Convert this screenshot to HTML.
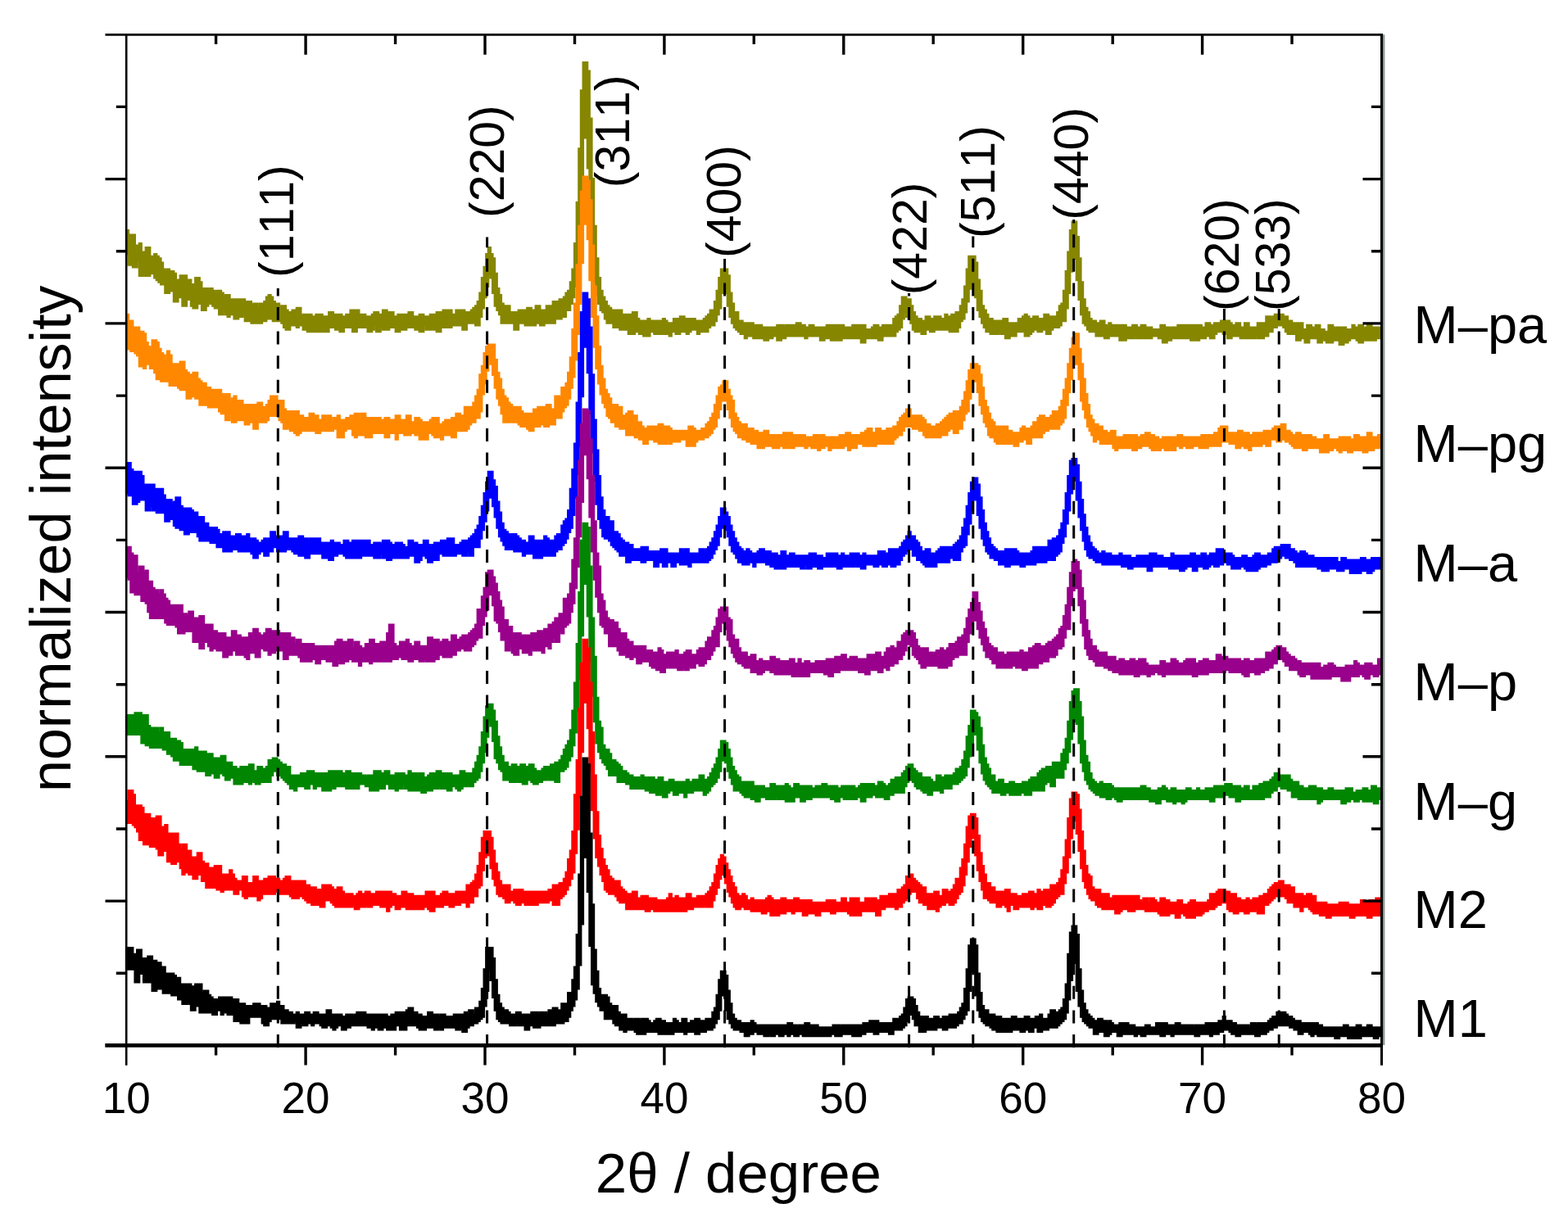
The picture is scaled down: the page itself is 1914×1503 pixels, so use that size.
<!DOCTYPE html><html><head><meta charset="utf-8"><title>XRD patterns</title><style>
html,body{margin:0;padding:0;background:#fff;}body{width:1914px;height:1503px;overflow:hidden;}
svg{display:block;}text{font-family:'Liberation Sans', Arial, sans-serif;fill:#000;font-kerning:none;}
</style></head><body>
<svg xmlns="http://www.w3.org/2000/svg" width="1914" height="1503" viewBox="0 0 1914 1503">
<rect width="1914" height="1503" fill="#fff"/>
<g stroke="none">
<path fill="#868600" stroke="#868600" stroke-width="2.6" d="M154.2 281.4H156.8V286.7H159.5H162.1H164.7V299.8H167.3H170V297.2H172.6V307.7H175.2H177.9V302.4H180.5H183.1V313H185.8V315.6H188.4V310.3H191V313H193.6V315.6H196.3V320.9H198.9V328.8H201.5V331.4H204.2V328.8H206.8V331.4H209.4H212.1V334H214.7V341.9H217.3H219.9V336.6H222.6H225.2H227.8V341.9H230.5H233.1V347.2H235.7H238.4V339.3H241H243.6V344.5H246.2V352.4H248.9H251.5H254.1V355.1H256.8V352.4H259.4V355.1H262V357.7H264.7V355.1H267.3H269.9V357.7H272.5V362.9H275.2V360.3H277.8H280.4V365.6H283.1H285.7H288.3H291H293.6H296.2H298.9V373.5H301.5V368.2H304.1H306.7V373.5H309.4V370.8H312H314.6V376.1H317.3V370.8H319.9H322.5V368.2H325.1V362.9H327.8V360.3H330.4V362.9H333V368.2H335.7V370.8H338.3H340.9V376.1H343.6V373.5H346.2H348.8V378.7H351.4V381.3H354.1H356.7V378.7H359.3H362V376.1H364.6H367.2V386.6H369.9V384H372.5V386.6H375.1V384H377.8H380.4V386.6H383H385.6V384H388.3H390.9H393.5V386.6H396.2H398.8H401.4V381.3H404H406.7V384H409.3H411.9H414.6H417.2V386.6H419.8H422.5V384H425.1H427.7V378.7H430.3H433H435.6H438.2V384H440.9H443.5H446.1V386.6H448.8H451.4V389.2H454V384H456.6V381.3H459.3H461.9V384H464.5H467.2V378.7H469.8H472.4V381.3H475.1H477.7H480.3V386.6H482.9H485.6V384H488.2H490.8H493.5H496.1H498.7V381.3H501.4H504V386.6H506.6H509.2H511.9V384H514.5H517.1V386.6H519.8H522.4H525V384H527.7H530.3H532.9V381.3H535.5H538.2V386.6H540.8V378.7H543.4H546.1H548.7H551.3V384H554H556.6V378.7H559.2H561.8H564.5H567.1V381.3H569.7H572.4H575V378.7H577.6V376.1H580.3V373.5H582.9V368.2H585.5V357.7H588.1V339.3H590.8V326.1H593.4V310.3H596V302.4H598.7V310.3H601.3V315.6H603.9V334H606.6V352.4H609.2V360.3H611.8V370.8H614.5V373.5H617.1H619.7H622.3V381.3H625H627.6H630.2H632.9V378.7H635.5H638.1H640.8V384H643.4V376.1H646H648.6V378.7H651.3V381.3H653.9V373.5H656.5H659.2V378.7H661.8H664.4H667V373.5H669.7H672.3H674.9V368.2H677.6H680.2V370.8H682.8V365.6H685.5H688.1V362.9H690.7V357.7H693.3V355.1H696V344.5H698.6V328.8H701.2V297.2H703.9V247.2H706.5V181.5H709.1V110.5H711.8V76.3H714.4H717V86.8H719.6V144.7H722.3V218.3H724.9V276.1H727.5V315.6H730.2V339.3H732.8V355.1H735.4V362.9H738.1V368.2H740.7V373.5H743.3V376.1H746V378.7H748.6V381.3H751.2V378.7H753.8H756.5H759.1V384H761.7H764.4H767V386.6H769.6V384H772.2V381.3H774.9H777.5V389.2H780.1V391.9H782.8H785.4H788H790.7V389.2H793.3V394.5H795.9V391.9H798.5H801.2H803.8H806.4H809.1V389.2H811.7V391.9H814.3V394.5H817H819.6H822.2V389.2H824.8H827.5V391.9H830.1V386.6H832.7H835.4V391.9H838V389.2H840.6H843.3H845.9H848.5V391.9H851.1H853.8H856.4H859V389.2H861.7V386.6H864.3V384H866.9V378.7H869.6H872.2V368.2H874.8V355.1H877.5V339.3H880.1V328.8H882.7H885.3H888V336.6H890.6V357.7H893.2V370.8H895.9V381.3H898.5H901.1V391.9H903.8H906.4V394.5H909H911.6H914.3H916.9H919.5V397.1H922.2V399.8H924.8V397.1H927.4H930V399.8H932.7H935.3H937.9H940.6H943.2H945.8H948.5V397.1H951.1H953.7H956.3V399.8H959V397.1H961.6H964.2H966.9H969.5H972.1V394.5H974.8H977.4V399.8H980V397.1H982.6V399.8H985.3H987.9V397.1H990.5H993.2V399.8H995.8H998.4H1001.1H1003.7H1006.3H1009V397.1H1011.6H1014.2H1016.8H1019.5V399.8H1022.1V397.1H1024.7H1027.4H1030V399.8H1032.6H1035.2H1037.9H1040.5V397.1H1043.1H1045.8H1048.4V402.4H1051V397.1H1053.7H1056.3V402.4H1058.9H1061.5H1064.2V399.8H1066.8V397.1H1069.4H1072.1V399.8H1074.7H1077.3V397.1H1080H1082.6H1085.2H1087.8H1090.5V389.2H1093.1V386.6H1095.7V384H1098.4V373.5H1101V362.9H1103.6H1106.3V365.6H1108.9H1111.5V373.5H1114.1V381.3H1116.8V386.6H1119.4V389.2H1122H1124.7V391.9H1127.3H1129.9V386.6H1132.6H1135.2V389.2H1137.8H1140.5V386.6H1143.1H1145.7H1148.3V389.2H1151H1153.6V384H1156.2V386.6H1158.9V389.2H1161.5V384H1164.1H1166.8V381.3H1169.4H1172V373.5H1174.6V365.6H1177.3V349.8H1179.9V328.8H1182.5V313H1185.2H1187.8H1190.4V320.9H1193V341.9H1195.7V355.1H1198.3V373.5H1200.9V378.7H1203.6V384H1206.2V389.2H1208.8H1211.5V391.9H1214.1H1216.7H1219.3H1222H1224.6V389.2H1227.2H1229.9V394.5H1232.5H1235.1H1237.8H1240.4H1243V389.2H1245.7H1248.3V386.6H1250.9V384H1253.5V386.6H1256.2V389.2H1258.8H1261.4V386.6H1264.1H1266.7V391.9H1269.3V389.2H1272H1274.6V384H1277.2H1279.8V386.6H1282.5H1285.1V389.2H1287.7V386.6H1290.4V381.3H1293V373.5H1295.6V370.8H1298.2V355.1H1300.9V331.4H1303.5V307.7H1306.1V281.4H1308.8V270.9H1311.4H1314V289.3H1316.7V315.6H1319.3V344.5H1321.9V365.6H1324.5V376.1H1327.2V381.3H1329.8V389.2H1332.4V391.9H1335.1H1337.7V394.5H1340.3H1343V391.9H1345.6H1348.2V397.1H1350.8V399.8H1353.5V394.5H1356.1V397.1H1358.7H1361.4H1364H1366.6H1369.3H1371.9H1374.5V399.8H1377.2H1379.8H1382.4V397.1H1385H1387.7V399.8H1390.3V402.4H1392.9V397.1H1395.6H1398.2V399.8H1400.8V402.4H1403.5V399.8H1406.1V402.4H1408.7H1411.3H1414H1416.6V397.1H1419.2H1421.9V399.8H1424.5H1427.1V402.4H1429.8V399.8H1432.4H1435V402.4H1437.6V397.1H1440.3H1442.9H1445.5H1448.2V402.4H1450.8V397.1H1453.4H1456H1458.7V399.8H1461.3V397.1H1463.9H1466.6V402.4H1469.2V399.8H1471.8V394.5H1474.5H1477.1V397.1H1479.7H1482.3V394.5H1485H1487.6H1490.2V391.9H1492.9H1495.5H1498.1H1500.8V394.5H1503.4V397.1H1506H1508.7V394.5H1511.3H1513.9V399.8H1516.5H1519.2V394.5H1521.8H1524.4V399.8H1527.1H1529.7H1532.3H1535V394.5H1537.6H1540.2V397.1H1542.8V394.5H1545.5V386.6H1548.1H1550.7V389.2H1553.4V386.6H1556V384H1558.6H1561.2H1563.9H1566.5V386.6H1569.1H1571.8V391.9H1574.4H1577V394.5H1579.7H1582.3V397.1H1584.9V394.5H1587.5H1590.2V402.4H1592.8H1595.4V397.1H1598.1H1600.7V399.8H1603.3V402.4H1606V397.1H1608.6H1611.2V402.4H1613.8H1616.5V405H1619.1H1621.7V397.1H1624.4H1627V399.8H1629.6V402.4H1632.3V399.8H1634.9H1637.5H1640.2H1642.8V405H1645.4V402.4H1648H1650.7V397.1H1653.3V399.8H1655.9H1658.6V397.1H1661.2H1663.8V402.4H1666.5V399.8H1669.1V397.1H1671.7H1674.3V399.8H1677V402.4H1679.6V399.8H1682.2H1684.9H1686.5V412.9H1684.9H1682.2H1679.6V415.5H1677H1674.3V412.9H1671.7V415.5H1669.1H1666.5V412.9H1663.8V418.2H1661.2H1658.6V415.5H1655.9V412.9H1653.3H1650.7H1648V415.5H1645.4V418.2H1642.8H1640.2V420.8H1637.5H1634.9V415.5H1632.3H1629.6H1627V418.2H1624.4H1621.7H1619.1V415.5H1616.5V412.9H1613.8V418.2H1611.2H1608.6V412.9H1606H1603.3H1600.7H1598.1V418.2H1595.4H1592.8V412.9H1590.2H1587.5V415.5H1584.9H1582.3V407.6H1579.7H1577V405H1574.4V407.6H1571.8V405H1569.1V399.8H1566.5V397.1H1563.9H1561.2H1558.6V399.8H1556H1553.4V405H1550.7H1548.1V410.3H1545.5H1542.8V412.9H1540.2H1537.6H1535V410.3H1532.3V412.9H1529.7H1527.1H1524.4H1521.8H1519.2H1516.5H1513.9V410.3H1511.3H1508.7H1506V407.6H1503.4V412.9H1500.8H1498.1V407.6H1495.5H1492.9V405H1490.2H1487.6H1485V407.6H1482.3V412.9H1479.7H1477.1V410.3H1474.5H1471.8V412.9H1469.2H1466.6H1463.9V415.5H1461.3H1458.7H1456H1453.4V412.9H1450.8H1448.2H1445.5H1442.9H1440.3H1437.6H1435H1432.4H1429.8V415.5H1427.1H1424.5V418.2H1421.9H1419.2V412.9H1416.6H1414V410.3H1411.3H1408.7H1406.1V412.9H1403.5H1400.8V410.3H1398.2V412.9H1395.6H1392.9H1390.3H1387.7V410.3H1385V412.9H1382.4V410.3H1379.8V412.9H1377.2H1374.5V415.5H1371.9V412.9H1369.3V415.5H1366.6V410.3H1364H1361.4H1358.7H1356.1H1353.5V412.9H1350.8H1348.2V410.3H1345.6H1343H1340.3H1337.7V405H1335.1H1332.4H1329.8V402.4H1327.2V397.1H1324.5V394.5H1321.9V384H1319.3V365.6H1316.7V341.9H1314V315.6H1311.4V307.7H1308.8V331.4H1306.1V357.7H1303.5V376.1H1300.9V391.9H1298.2H1295.6V397.1H1293V399.8H1290.4H1287.7H1285.1V402.4H1282.5V407.6H1279.8H1277.2V402.4H1274.6H1272V405H1269.3H1266.7V402.4H1264.1H1261.4V405H1258.8V407.6H1256.2V410.3H1253.5H1250.9V405H1248.3H1245.7H1243H1240.4V410.3H1237.8H1235.1V407.6H1232.5V412.9H1229.9H1227.2V407.6H1224.6H1222V405H1219.3V407.6H1216.7V405H1214.1V407.6H1211.5H1208.8V405H1206.2H1203.6V399.8H1200.9V394.5H1198.3V386.6H1195.7V378.7H1193V362.9H1190.4V344.5H1187.8V334H1185.2V352.4H1182.5V368.2H1179.9V381.3H1177.3V389.2H1174.6V391.9H1172V399.8H1169.4V405H1166.8H1164.1H1161.5H1158.9V402.4H1156.2H1153.6H1151H1148.3H1145.7H1143.1H1140.5V405H1137.8H1135.2V402.4H1132.6H1129.9V407.6H1127.3H1124.7V402.4H1122V405H1119.4H1116.8V402.4H1114.1V394.5H1111.5V389.2H1108.9V386.6H1106.3V381.3H1103.6V389.2H1101V399.8H1098.4V402.4H1095.7V405H1093.1V410.3H1090.5H1087.8H1085.2H1082.6H1080H1077.3V415.5H1074.7H1072.1V412.9H1069.4H1066.8H1064.2V410.3H1061.5V412.9H1058.9H1056.3V418.2H1053.7H1051V412.9H1048.4H1045.8H1043.1H1040.5H1037.9H1035.2H1032.6H1030H1027.4V415.5H1024.7H1022.1H1019.5H1016.8H1014.2V412.9H1011.6H1009H1006.3V415.5H1003.7H1001.1V410.3H998.4H995.8H993.2H990.5H987.9H985.3V412.9H982.6V410.3H980H977.4H974.8H972.1H969.5H966.9H964.2H961.6H959V412.9H956.3H953.7V415.5H951.1H948.5V410.3H945.8H943.2V412.9H940.6H937.9V415.5H935.3H932.7V412.9H930H927.4V407.6H924.8V412.9H922.2H919.5V407.6H916.9V410.3H914.3H911.6V412.9H909V407.6H906.4H903.8V405H901.1V402.4H898.5V399.8H895.9V394.5H893.2V386.6H890.6V373.5H888V357.7H885.3V341.9H882.7V357.7H880.1V376.1H877.5V384H874.8V391.9H872.2V397.1H869.6H866.9V399.8H864.3V405H861.7H859H856.4H853.8V407.6H851.1V402.4H848.5H845.9H843.3V405H840.6V407.6H838V405H835.4H832.7H830.1V407.6H827.5H824.8V405H822.2H819.6V410.3H817V407.6H814.3V405H811.7V407.6H809.1H806.4H803.8V405H801.2V407.6H798.5V405H795.9H793.3V410.3H790.7H788H785.4V407.6H782.8H780.1V405H777.5V402.4H774.9V407.6H772.2H769.6H767V402.4H764.4H761.7H759.1H756.5V399.8H753.8V397.1H751.2V399.8H748.6V394.5H746H743.3H740.7V389.2H738.1V381.3H735.4V378.7H732.8V370.8H730.2V360.3H727.5V344.5H724.9V313H722.3V270.9H719.6V205.1H717V131.5H714.4V168.3H711.8V244.6H709.1V291.9H706.5V331.4H703.9V349.8H701.2V362.9H698.6V370.8H696V378.7H693.3H690.7V386.6H688.1H685.5V389.2H682.8H680.2H677.6V394.5H674.9H672.3V391.9H669.7V394.5H667H664.4V397.1H661.8H659.2V394.5H656.5V391.9H653.9V397.1H651.3H648.6H646H643.4H640.8V394.5H638.1V391.9H635.5V394.5H632.9V402.4H630.2H627.6V394.5H625H622.3H619.7H617.1H614.5H611.8V384H609.2V378.7H606.6V373.5H603.9V357.7H601.3V339.3H598.7V334H596V349.8H593.4V362.9H590.8V376.1H588.1V386.6H585.5V397.1H582.9H580.3V391.9H577.6V394.5H575H572.4H569.7V402.4H567.1H564.5V397.1H561.8H559.2H556.6H554H551.3V399.8H548.7H546.1H543.4V397.1H540.8V399.8H538.2V405H535.5H532.9V399.8H530.3V402.4H527.7H525H522.4H519.8V397.1H517.1V405H514.5H511.9V402.4H509.2H506.6V399.8H504V397.1H501.4V399.8H498.7H496.1V402.4H493.5H490.8H488.2V405H485.6H482.9V399.8H480.3H477.7H475.1V402.4H472.4H469.8H467.2V399.8H464.5V405H461.9H459.3V397.1H456.6V402.4H454V405H451.4H448.8V399.8H446.1H443.5H440.9H438.2H435.6V405H433H430.3V399.8H427.7H425.1V397.1H422.5V399.8H419.8V405H417.2H414.6V402.4H411.9H409.3V399.8H406.7H404H401.4V405H398.8H396.2H393.5H390.9V402.4H388.3V405H385.6V399.8H383V405H380.4H377.8H375.1V402.4H372.5H369.9V397.1H367.2H364.6V399.8H362V397.1H359.3H356.7H354.1V402.4H351.4H348.8V399.8H346.2V394.5H343.6V391.9H340.9H338.3V386.6H335.7V391.9H333V389.2H330.4H327.8H325.1V391.9H322.5H319.9V394.5H317.3H314.6H312H309.4H306.7V386.6H304.1V391.9H301.5H298.9V384H296.2V386.6H293.6H291V389.2H288.3H285.7V384H283.1H280.4V386.6H277.8V384H275.2V378.7H272.5V384H269.9H267.3V376.1H264.7H262V373.5H259.4V370.8H256.8V368.2H254.1V373.5H251.5V378.7H248.9H246.2V370.8H243.6H241V376.1H238.4H235.7V373.5H233.1V365.6H230.5H227.8V373.5H225.2H222.6V362.9H219.9H217.3V368.2H214.7H212.1V355.1H209.4H206.8V357.7H204.2H201.5V347.2H198.9H196.3V344.5H193.6V341.9H191V339.3H188.4V334H185.8H183.1V336.6H180.5H177.9H175.2H172.6H170V318.2H167.3V326.1H164.7H162.1V323.5H159.5H156.8V310.3H154.2Z"/>
<path fill="#ff8800" stroke="#ff8800" stroke-width="2.6" d="M154.2 384H156.8V391.9H159.5H162.1V399.8H164.7H167.3H170V407.6H172.6V405H175.2V407.6H177.9V418.2H180.5V423.4H183.1V426.1H185.8V415.5H188.4H191V418.2H193.6V426.1H196.3V431.3H198.9V433.9H201.5V441.8H204.2V428.7H206.8V433.9H209.4V444.5H212.1H214.7H217.3V447.1H219.9V441.8H222.6H225.2V452.4H227.8V455H230.5V457.6H233.1H235.7V455H238.4H241V462.9H243.6V465.5H246.2V468.1H248.9H251.5V473.4H254.1H256.8V476H259.4H262H264.7H267.3H269.9V481.3H272.5V483.9H275.2V481.3H277.8H280.4V491.8H283.1V486.5H285.7V483.9H288.3V489.2H291V491.8H293.6V489.2H296.2V494.4H298.9V497.1H301.5V494.4H304.1H306.7H309.4H312H314.6V491.8H317.3H319.9V497.1H322.5H325.1V494.4H327.8V489.2H330.4V483.9H333H335.7H338.3V489.2H340.9H343.6H346.2V499.7H348.8V502.3H351.4H354.1H356.7V505H359.3V502.3H362H364.6V507.6H367.2H369.9V510.2H372.5H375.1H377.8V505H380.4H383V507.6H385.6H388.3V512.9H390.9H393.5V507.6H396.2H398.8H401.4H404V515.5H406.7V510.2H409.3H411.9V507.6H414.6V515.5H417.2V512.9H419.8H422.5V510.2H425.1H427.7V507.6H430.3H433V505H435.6H438.2V512.9H440.9V505H443.5H446.1V510.2H448.8H451.4H454H456.6H459.3H461.9H464.5V515.5H467.2V512.9H469.8V510.2H472.4H475.1V512.9H477.7H480.3H482.9V507.6H485.6H488.2V512.9H490.8H493.5H496.1V507.6H498.7H501.4V515.5H504H506.6V510.2H509.2H511.9V512.9H514.5V515.5H517.1H519.8H522.4H525V512.9H527.7V510.2H530.3H532.9H535.5V518.1H538.2H540.8V515.5H543.4V512.9H546.1V515.5H548.7V512.9H551.3V510.2H554H556.6V505H559.2H561.8V507.6H564.5H567.1V497.1H569.7H572.4V499.7H575V497.1H577.6V491.8H580.3V483.9H582.9V476H585.5V457.6H588.1V447.1H590.8V431.3H593.4V423.4H596V420.8H598.7H601.3H603.9V439.2H606.6V455H609.2V462.9H611.8V476H614.5V483.9H617.1V486.5H619.7V491.8H622.3V494.4H625V499.7H627.6V497.1H630.2H632.9H635.5V502.3H638.1V505H640.8H643.4V507.6H646V505H648.6H651.3V499.7H653.9H656.5V497.1H659.2H661.8V499.7H664.4V497.1H667V494.4H669.7H672.3V499.7H674.9H677.6V483.9H680.2H682.8V486.5H685.5V473.4H688.1H690.7V468.1H693.3V455H696V436.6H698.6V402.4H701.2V370.8H703.9V323.5H706.5V276.1H709.1V234.1H711.8V215.7H714.4H717V220.9H719.6V244.6H722.3V299.8H724.9V349.8H727.5V386.6H730.2V423.4H732.8V447.1H735.4V462.9H738.1V476H740.7V481.3H743.3V486.5H746V494.4H748.6H751.2H753.8V497.1H756.5H759.1V507.6H761.7H764.4V505H767V502.3H769.6H772.2V507.6H774.9H777.5V515.5H780.1H782.8V520.7H785.4V523.4H788H790.7V520.7H793.3H795.9H798.5H801.2V523.4H803.8V518.1H806.4H809.1V520.7H811.7H814.3H817V523.4H819.6V526H822.2H824.8H827.5H830.1H832.7H835.4V528.6H838V526H840.6V520.7H843.3H845.9V523.4H848.5V526H851.1H853.8H856.4V523.4H859H861.7V518.1H864.3V515.5H866.9V510.2H869.6V505H872.2V494.4H874.8V483.9H877.5V473.4H880.1V470.8H882.7V465.5H885.3H888V476H890.6V483.9H893.2V489.2H895.9V505H898.5V510.2H901.1V515.5H903.8V520.7H906.4V518.1H909H911.6V526H914.3V523.4H916.9H919.5V528.6H922.2V526H924.8V528.6H927.4H930H932.7V526H935.3H937.9V531.3H940.6H943.2V533.9H945.8V531.3H948.5H951.1H953.7H956.3V528.6H959V533.9H961.6V528.6H964.2H966.9V531.3H969.5H972.1H974.8H977.4H980H982.6V533.9H985.3H987.9H990.5H993.2V531.3H995.8H998.4H1001.1H1003.7H1006.3V533.9H1009H1011.6H1014.2V536.5H1016.8V533.9H1019.5H1022.1H1024.7V531.3H1027.4H1030V533.9H1032.6V528.6H1035.2H1037.9V533.9H1040.5V531.3H1043.1H1045.8H1048.4H1051V528.6H1053.7H1056.3V526H1058.9V523.4H1061.5H1064.2V531.3H1066.8V528.6H1069.4V523.4H1072.1H1074.7V526H1077.3H1080V528.6H1082.6V523.4H1085.2H1087.8V526H1090.5V520.7H1093.1H1095.7V515.5H1098.4V510.2H1101V507.6H1103.6V505H1106.3V499.7H1108.9H1111.5V507.6H1114.1H1116.8V510.2H1119.4V507.6H1122H1124.7V510.2H1127.3V512.9H1129.9V518.1H1132.6H1135.2V520.7H1137.8H1140.5H1143.1V518.1H1145.7H1148.3V515.5H1151V512.9H1153.6V510.2H1156.2V507.6H1158.9V505H1161.5H1164.1V502.3H1166.8H1169.4H1172V497.1H1174.6V489.2H1177.3V478.7H1179.9V465.5H1182.5V452.4H1185.2V444.5H1187.8H1190.4H1193V447.1H1195.7V457.6H1198.3V473.4H1200.9V489.2H1203.6V497.1H1206.2V505H1208.8V512.9H1211.5V515.5H1214.1V520.7H1216.7H1219.3H1222V526H1224.6V520.7H1227.2H1229.9V526H1232.5H1235.1V528.6H1237.8H1240.4H1243H1245.7V523.4H1248.3V520.7H1250.9V523.4H1253.5H1256.2H1258.8V520.7H1261.4V515.5H1264.1H1266.7V510.2H1269.3V507.6H1272H1274.6V512.9H1277.2V510.2H1279.8H1282.5V507.6H1285.1V502.3H1287.7V505H1290.4V502.3H1293V497.1H1295.6V489.2H1298.2V476H1300.9V462.9H1303.5V444.5H1306.1V426.1H1308.8V412.9H1311.4V407.6H1314H1316.7V426.1H1319.3V444.5H1321.9V462.9H1324.5V481.3H1327.2V494.4H1329.8V507.6H1332.4V512.9H1335.1V518.1H1337.7H1340.3V520.7H1343H1345.6V526H1348.2H1350.8V528.6H1353.5H1356.1V526H1358.7H1361.4V533.9H1364H1366.6H1369.3H1371.9V531.3H1374.5H1377.2V533.9H1379.8V531.3H1382.4H1385H1387.7V533.9H1390.3H1392.9V531.3H1395.6H1398.2V528.6H1400.8H1403.5V531.3H1406.1H1408.7V533.9H1411.3H1414V536.5H1416.6H1419.2V533.9H1421.9H1424.5H1427.1H1429.8V536.5H1432.4V533.9H1435H1437.6V531.3H1440.3H1442.9V533.9H1445.5H1448.2H1450.8V536.5H1453.4V533.9H1456H1458.7H1461.3H1463.9H1466.6V531.3H1469.2H1471.8H1474.5H1477.1V533.9H1479.7V531.3H1482.3V528.6H1485H1487.6V523.4H1490.2V520.7H1492.9H1495.5H1498.1V528.6H1500.8H1503.4H1506V531.3H1508.7V528.6H1511.3V526H1513.9H1516.5V531.3H1519.2V528.6H1521.8H1524.4V531.3H1527.1H1529.7V528.6H1532.3H1535H1537.6H1540.2H1542.8V526H1545.5H1548.1H1550.7H1553.4V523.4H1556V520.7H1558.6H1561.2H1563.9V518.1H1566.5H1569.1V526H1571.8H1574.4V528.6H1577V531.3H1579.7H1582.3V528.6H1584.9H1587.5V531.3H1590.2H1592.8V533.9H1595.4V531.3H1598.1H1600.7V533.9H1603.3H1606V536.5H1608.6H1611.2H1613.8H1616.5V531.3H1619.1H1621.7V536.5H1624.4H1627H1629.6H1632.3H1634.9V533.9H1637.5H1640.2H1642.8H1645.4H1648V536.5H1650.7H1653.3V531.3H1655.9H1658.6V533.9H1661.2H1663.8H1666.5H1669.1V528.6H1671.7H1674.3V533.9H1677H1679.6H1682.2V531.3H1684.9H1686.5V544.4H1684.9V547H1682.2H1679.6H1677V549.7H1674.3H1671.7H1669.1V552.3H1666.5H1663.8V549.7H1661.2H1658.6H1655.9H1653.3V547H1650.7V552.3H1648H1645.4V549.7H1642.8H1640.2V547H1637.5V552.3H1634.9V549.7H1632.3V547H1629.6H1627V549.7H1624.4H1621.7V552.3H1619.1H1616.5H1613.8H1611.2V547H1608.6H1606H1603.3H1600.7H1598.1H1595.4V549.7H1592.8H1590.2V544.4H1587.5V547H1584.9H1582.3H1579.7V544.4H1577V541.8H1574.4V539.1H1571.8H1569.1V536.5H1566.5H1563.9V539.1H1561.2H1558.6V536.5H1556H1553.4H1550.7V544.4H1548.1H1545.5V541.8H1542.8H1540.2V544.4H1537.6H1535H1532.3H1529.7H1527.1V549.7H1524.4V544.4H1521.8V547H1519.2V544.4H1516.5H1513.9V547H1511.3H1508.7V541.8H1506H1503.4H1500.8V539.1H1498.1H1495.5V536.5H1492.9V539.1H1490.2V544.4H1487.6H1485H1482.3H1479.7H1477.1H1474.5V547H1471.8H1469.2H1466.6H1463.9V544.4H1461.3H1458.7H1456V547H1453.4H1450.8H1448.2V544.4H1445.5H1442.9V547H1440.3V544.4H1437.6H1435V549.7H1432.4H1429.8V547H1427.1V549.7H1424.5H1421.9V547H1419.2H1416.6V549.7H1414V547H1411.3V549.7H1408.7H1406.1V547H1403.5V544.4H1400.8H1398.2H1395.6H1392.9V547H1390.3H1387.7V549.7H1385H1382.4V547H1379.8H1377.2V544.4H1374.5V547H1371.9H1369.3H1366.6H1364V549.7H1361.4V547H1358.7V541.8H1356.1H1353.5H1350.8H1348.2H1345.6H1343V536.5H1340.3H1337.7V539.1H1335.1V531.3H1332.4V526H1329.8V520.7H1327.2V510.2H1324.5V499.7H1321.9V489.2H1319.3V462.9H1316.7V444.5H1314V431.3H1311.4V444.5H1308.8V462.9H1306.1V478.7H1303.5V494.4H1300.9V510.2H1298.2V515.5H1295.6V518.1H1293V523.4H1290.4H1287.7H1285.1H1282.5H1279.8V526H1277.2H1274.6V528.6H1272V533.9H1269.3H1266.7V528.6H1264.1V533.9H1261.4H1258.8V541.8H1256.2H1253.5V536.5H1250.9H1248.3V539.1H1245.7H1243V544.4H1240.4H1237.8V539.1H1235.1V541.8H1232.5H1229.9H1227.2H1224.6V536.5H1222V541.8H1219.3H1216.7V539.1H1214.1V533.9H1211.5H1208.8V531.3H1206.2V520.7H1203.6V515.5H1200.9V505H1198.3V494.4H1195.7V478.7H1193V465.5H1190.4V460.2H1187.8V473.4H1185.2V486.5H1182.5V502.3H1179.9V505H1177.3V512.9H1174.6V523.4H1172H1169.4V528.6H1166.8H1164.1V523.4H1161.5H1158.9V526H1156.2V531.3H1153.6H1151H1148.3V533.9H1145.7H1143.1H1140.5H1137.8H1135.2H1132.6H1129.9V531.3H1127.3V526H1124.7H1122V520.7H1119.4V523.4H1116.8H1114.1V520.7H1111.5V518.1H1108.9V520.7H1106.3H1103.6V526H1101V531.3H1098.4H1095.7V533.9H1093.1V536.5H1090.5V541.8H1087.8H1085.2V539.1H1082.6V541.8H1080H1077.3H1074.7V539.1H1072.1V541.8H1069.4V544.4H1066.8H1064.2H1061.5H1058.9H1056.3H1053.7V541.8H1051H1048.4H1045.8V547H1043.1H1040.5V544.4H1037.9V549.7H1035.2V544.4H1032.6H1030V547H1027.4H1024.7H1022.1H1019.5H1016.8H1014.2V549.7H1011.6V544.4H1009H1006.3V547H1003.7H1001.1V549.7H998.4V544.4H995.8V547H993.2H990.5V544.4H987.9H985.3V547H982.6V544.4H980H977.4H974.8H972.1H969.5V547H966.9H964.2H961.6H959H956.3V544.4H953.7H951.1V547H948.5H945.8H943.2V544.4H940.6H937.9H935.3V541.8H932.7V547H930H927.4H924.8V541.8H922.2H919.5H916.9V539.1H914.3H911.6V536.5H909H906.4V533.9H903.8H901.1V528.6H898.5V526H895.9V520.7H893.2V510.2H890.6V499.7H888V489.2H885.3V483.9H882.7V489.2H880.1V499.7H877.5V510.2H874.8V520.7H872.2V523.4H869.6V528.6H866.9V531.3H864.3V533.9H861.7H859V536.5H856.4H853.8H851.1V539.1H848.5V544.4H845.9H843.3H840.6H838V536.5H835.4H832.7H830.1V539.1H827.5H824.8V536.5H822.2V539.1H819.6V541.8H817V536.5H814.3V541.8H811.7H809.1H806.4H803.8V539.1H801.2H798.5V536.5H795.9H793.3H790.7V541.8H788H785.4V536.5H782.8H780.1V533.9H777.5H774.9V531.3H772.2H769.6H767H764.4V523.4H761.7H759.1H756.5V520.7H753.8H751.2V515.5H748.6H746V510.2H743.3V507.6H740.7V497.1H738.1V491.8H735.4V481.3H732.8V468.1H730.2V449.7H727.5V423.4H724.9V386.6H722.3V341.9H719.6V291.9H717V249.8H714.4V273.5H711.8V320.9H709.1V370.8H706.5V407.6H703.9V439.2H701.2V460.2H698.6V473.4H696V486.5H693.3V494.4H690.7V497.1H688.1V502.3H685.5V510.2H682.8H680.2H677.6V518.1H674.9H672.3H669.7V520.7H667H664.4V515.5H661.8V518.1H659.2V520.7H656.5H653.9H651.3V526H648.6H646V523.4H643.4V520.7H640.8H638.1H635.5V518.1H632.9V515.5H630.2H627.6H625V512.9H622.3V515.5H619.7H617.1H614.5V505H611.8V494.4H609.2V486.5H606.6V473.4H603.9V457.6H601.3V444.5H598.7V439.2H596V452.4H593.4V468.1H590.8V481.3H588.1V502.3H585.5V510.2H582.9H580.3V515.5H577.6H575V518.1H572.4V523.4H569.7V526H567.1H564.5H561.8H559.2H556.6V533.9H554H551.3V531.3H548.7V528.6H546.1V531.3H543.4H540.8V536.5H538.2V531.3H535.5V533.9H532.9H530.3V531.3H527.7V528.6H525H522.4V536.5H519.8H517.1H514.5H511.9V528.6H509.2V531.3H506.6V528.6H504H501.4V531.3H498.7H496.1H493.5V528.6H490.8H488.2V526H485.6V536.5H482.9V528.6H480.3H477.7H475.1V533.9H472.4H469.8V528.6H467.2H464.5H461.9V526H459.3V528.6H456.6H454V533.9H451.4H448.8H446.1V531.3H443.5H440.9H438.2V526H435.6V533.9H433V531.3H430.3V523.4H427.7H425.1H422.5V526H419.8V533.9H417.2H414.6H411.9V523.4H409.3H406.7V526H404H401.4H398.8H396.2H393.5H390.9V528.6H388.3H385.6V526H383V523.4H380.4V526H377.8H375.1H372.5V523.4H369.9V526H367.2V528.6H364.6V531.3H362V528.6H359.3V526H356.7H354.1V520.7H351.4V523.4H348.8H346.2V515.5H343.6V512.9H340.9V507.6H338.3V505H335.7V507.6H333V505H330.4V507.6H327.8V512.9H325.1V515.5H322.5V512.9H319.9V515.5H317.3H314.6V523.4H312H309.4V515.5H306.7H304.1V518.1H301.5H298.9V512.9H296.2V510.2H293.6V512.9H291H288.3V515.5H285.7H283.1V505H280.4V512.9H277.8H275.2V505H272.5H269.9V502.3H267.3V497.1H264.7H262H259.4H256.8H254.1V494.4H251.5H248.9H246.2H243.6V486.5H241H238.4V483.9H235.7V481.3H233.1V486.5H230.5H227.8V473.4H225.2V476H222.6H219.9V473.4H217.3V470.8H214.7H212.1H209.4H206.8V465.5H204.2H201.5H198.9H196.3V462.9H193.6H191V455H188.4V449.7H185.8H183.1V444.5H180.5H177.9V449.7H175.2V447.1H172.6H170V433.9H167.3V431.3H164.7V428.7H162.1H159.5V426.1H156.8H154.2Z"/>
<path fill="#0000ff" stroke="#0000ff" stroke-width="2.6" d="M154.2 565.4H156.8H159.5V573.3H162.1V578.6H164.7V576H167.3H170H172.6V581.2H175.2V591.8H177.9H180.5V597H183.1V591.8H185.8H188.4V597H191V599.6H193.6V597H196.3H198.9V604.9H201.5V610.2H204.2H206.8H209.4V615.4H212.1V612.8H214.7V607.5H217.3H219.9V618H222.6V620.7H225.2H227.8H230.5H233.1V623.3H235.7V625.9H238.4H241V636.5H243.6V631.2H246.2H248.9V639.1H251.5H254.1V644.4H256.8H259.4H262H264.7V647H267.3V652.2H269.9H272.5V649.6H275.2H277.8H280.4V654.9H283.1H285.7H288.3V652.2H291H293.6V654.9H296.2H298.9H301.5V652.2H304.1V660.1H306.7V657.5H309.4H312V660.1H314.6V662.8H317.3H319.9V660.1H322.5V657.5H325.1V660.1H327.8V657.5H330.4V649.6H333H335.7V654.9H338.3H340.9H343.6V657.5H346.2V649.6H348.8H351.4V657.5H354.1H356.7H359.3H362H364.6V654.9H367.2H369.9V657.5H372.5H375.1V660.1H377.8V657.5H380.4H383V660.1H385.6V657.5H388.3H390.9V662.8H393.5H396.2V665.4H398.8V662.8H401.4H404V660.1H406.7V662.8H409.3H411.9H414.6V668H417.2V665.4H419.8V660.1H422.5H425.1V662.8H427.7V665.4H430.3V660.1H433H435.6V662.8H438.2V660.1H440.9H443.5V662.8H446.1V660.1H448.8H451.4V665.4H454V668H456.6V662.8H459.3V665.4H461.9V662.8H464.5V665.4H467.2V660.1H469.8H472.4H475.1V662.8H477.7V665.4H480.3V668H482.9V662.8H485.6H488.2H490.8V665.4H493.5V668H496.1H498.7V660.1H501.4H504V662.8H506.6H509.2V665.4H511.9H514.5H517.1V660.1H519.8H522.4V665.4H525V668H527.7V665.4H530.3V662.8H532.9H535.5H538.2V660.1H540.8H543.4H546.1V657.5H548.7H551.3H554V665.4H556.6H559.2H561.8V662.8H564.5V660.1H567.1H569.7H572.4V657.5H575V654.9H577.6V652.2H580.3V647H582.9V641.7H585.5V631.2H588.1V618H590.8V602.3H593.4V589.1H596V576H598.7H601.3V586.5H603.9V594.4H606.6V612.8H609.2V625.9H611.8V639.1H614.5V647H617.1V649.6H619.7V652.2H622.3V654.9H625V652.2H627.6H630.2V654.9H632.9V657.5H635.5V660.1H638.1H640.8V662.8H643.4H646V654.9H648.6H651.3V662.8H653.9V660.1H656.5H659.2V662.8H661.8V660.1H664.4V654.9H667V657.5H669.7V662.8H672.3V660.1H674.9H677.6V654.9H680.2V652.2H682.8H685.5V641.7H688.1V636.5H690.7V633.8H693.3V623.3H696V597H698.6V573.3H701.2V541.8H703.9V491.8H706.5V431.3H709.1V381.3H711.8V357.7H714.4H717V365.6H719.6V399.8H722.3V457.6H724.9V512.9H727.5V549.7H730.2V581.2H732.8V607.5H735.4V623.3H738.1V631.2H740.7H743.3V636.5H746H748.6V649.6H751.2H753.8V652.2H756.5V657.5H759.1V660.1H761.7V662.8H764.4H767V665.4H769.6H772.2V670.6H774.9H777.5H780.1H782.8V668H785.4H788H790.7V673.3H793.3H795.9H798.5H801.2H803.8H806.4V670.6H809.1H811.7H814.3V675.9H817H819.6H822.2H824.8H827.5H830.1V670.6H832.7V673.3H835.4V670.6H838H840.6V675.9H843.3H845.9H848.5H851.1H853.8V670.6H856.4H859V673.3H861.7V670.6H864.3V668H866.9V662.8H869.6V657.5H872.2V649.6H874.8V641.7H877.5V631.2H880.1V620.7H882.7H885.3V625.9H888V631.2H890.6V641.7H893.2V649.6H895.9V657.5H898.5V662.8H901.1V668H903.8V670.6H906.4V673.3H909H911.6V670.6H914.3V673.3H916.9V675.9H919.5H922.2H924.8V673.3H927.4V670.6H930H932.7V678.5H935.3V673.3H937.9H940.6V675.9H943.2H945.8H948.5V678.5H951.1H953.7V673.3H956.3H959V681.2H961.6V678.5H964.2V675.9H966.9H969.5V678.5H972.1H974.8H977.4H980H982.6H985.3H987.9V675.9H990.5H993.2H995.8V681.2H998.4V678.5H1001.1H1003.7V681.2H1006.3H1009V675.9H1011.6H1014.2H1016.8H1019.5H1022.1V681.2H1024.7V678.5H1027.4V675.9H1030V678.5H1032.6H1035.2V681.2H1037.9V675.9H1040.5H1043.1H1045.8H1048.4V678.5H1051H1053.7V675.9H1056.3V678.5H1058.9H1061.5H1064.2H1066.8H1069.4H1072.1V673.3H1074.7H1077.3H1080V678.5H1082.6V675.9H1085.2V670.6H1087.8H1090.5H1093.1H1095.7H1098.4V668H1101V662.8H1103.6V660.1H1106.3V654.9H1108.9V649.6H1111.5V654.9H1114.1H1116.8V660.1H1119.4V662.8H1122V668H1124.7V673.3H1127.3H1129.9V670.6H1132.6H1135.2V675.9H1137.8H1140.5H1143.1V673.3H1145.7V670.6H1148.3V668H1151H1153.6V670.6H1156.2V668H1158.9H1161.5H1164.1V665.4H1166.8V662.8H1169.4V660.1H1172V654.9H1174.6V644.4H1177.3V633.8H1179.9V618H1182.5V602.3H1185.2V589.1H1187.8V583.9H1190.4H1193V591.8H1195.7V607.5H1198.3V623.3H1200.9V639.1H1203.6V649.6H1206.2V657.5H1208.8V665.4H1211.5V668H1214.1V670.6H1216.7V673.3H1219.3H1222H1224.6H1227.2V670.6H1229.9H1232.5V675.9H1235.1V670.6H1237.8H1240.4V673.3H1243V675.9H1245.7H1248.3H1250.9H1253.5H1256.2H1258.8V673.3H1261.4V668H1264.1H1266.7H1269.3H1272H1274.6H1277.2V670.6H1279.8V660.1H1282.5H1285.1V657.5H1287.7H1290.4V654.9H1293V647H1295.6V639.1H1298.2V623.3H1300.9V602.3H1303.5V581.2H1306.1V562.8H1308.8V560.2H1311.4H1314V568.1H1316.7V589.1H1319.3V610.2H1321.9V628.6H1324.5V644.4H1327.2V654.9H1329.8V662.8H1332.4V668H1335.1V670.6H1337.7V673.3H1340.3V675.9H1343H1345.6V673.3H1348.2V675.9H1350.8H1353.5H1356.1V678.5H1358.7H1361.4H1364H1366.6V675.9H1369.3V678.5H1371.9H1374.5H1377.2H1379.8V681.2H1382.4H1385H1387.7V678.5H1390.3H1392.9H1395.6H1398.2V681.2H1400.8V678.5H1403.5V675.9H1406.1H1408.7H1411.3V678.5H1414H1416.6H1419.2V681.2H1421.9H1424.5H1427.1H1429.8V675.9H1432.4V678.5H1435H1437.6H1440.3H1442.9V681.2H1445.5V678.5H1448.2V681.2H1450.8V678.5H1453.4V675.9H1456H1458.7V678.5H1461.3H1463.9V681.2H1466.6V675.9H1469.2H1471.8V681.2H1474.5V678.5H1477.1V675.9H1479.7H1482.3H1485V670.6H1487.6H1490.2H1492.9V675.9H1495.5H1498.1H1500.8H1503.4V678.5H1506V681.2H1508.7H1511.3H1513.9V683.8H1516.5V678.5H1519.2H1521.8V681.2H1524.4H1527.1V683.8H1529.7V678.5H1532.3V675.9H1535H1537.6V681.2H1540.2V678.5H1542.8H1545.5H1548.1V675.9H1550.7H1553.4V670.6H1556V668H1558.6H1561.2H1563.9V665.4H1566.5H1569.1H1571.8H1574.4V670.6H1577H1579.7V673.3H1582.3V675.9H1584.9H1587.5V673.3H1590.2H1592.8V675.9H1595.4V678.5H1598.1H1600.7H1603.3V681.2H1606H1608.6H1611.2H1613.8H1616.5H1619.1H1621.7H1624.4H1627H1629.6H1632.3V686.4H1634.9H1637.5V681.2H1640.2H1642.8V683.8H1645.4H1648H1650.7H1653.3H1655.9H1658.6H1661.2V681.2H1663.8H1666.5V683.8H1669.1H1671.7H1674.3V681.2H1677H1679.6H1682.2H1684.9H1686.5V691.7H1684.9V694.3H1682.2H1679.6H1677V696.9H1674.3V699.6H1671.7H1669.1V694.3H1666.5V696.9H1663.8H1661.2V699.6H1658.6H1655.9V696.9H1653.3V699.6H1650.7H1648V694.3H1645.4H1642.8H1640.2V696.9H1637.5H1634.9H1632.3V694.3H1629.6H1627H1624.4H1621.7V696.9H1619.1H1616.5H1613.8V694.3H1611.2H1608.6V691.7H1606H1603.3H1600.7H1598.1H1595.4H1592.8H1590.2H1587.5H1584.9H1582.3V686.4H1579.7V683.8H1577H1574.4V681.2H1571.8H1569.1V678.5H1566.5H1563.9V681.2H1561.2V683.8H1558.6V686.4H1556H1553.4H1550.7V689.1H1548.1H1545.5V691.7H1542.8H1540.2H1537.6V694.3H1535V696.9H1532.3H1529.7V691.7H1527.1V696.9H1524.4H1521.8V694.3H1519.2V691.7H1516.5H1513.9V694.3H1511.3V691.7H1508.7V694.3H1506H1503.4V689.1H1500.8H1498.1V686.4H1495.5H1492.9V689.1H1490.2H1487.6V691.7H1485H1482.3V689.1H1479.7H1477.1V691.7H1474.5V694.3H1471.8H1469.2V691.7H1466.6H1463.9H1461.3V696.9H1458.7H1456V691.7H1453.4H1450.8H1448.2V694.3H1445.5V696.9H1442.9H1440.3V694.3H1437.6H1435H1432.4H1429.8H1427.1V691.7H1424.5H1421.9H1419.2H1416.6H1414H1411.3H1408.7H1406.1V696.9H1403.5H1400.8V691.7H1398.2H1395.6H1392.9H1390.3H1387.7H1385H1382.4V694.3H1379.8H1377.2V691.7H1374.5H1371.9H1369.3V689.1H1366.6H1364H1361.4H1358.7H1356.1H1353.5H1350.8H1348.2H1345.6V686.4H1343H1340.3H1337.7V683.8H1335.1V681.2H1332.4H1329.8V678.5H1327.2V670.6H1324.5V660.1H1321.9V647H1319.3V631.2H1316.7V610.2H1314V586.5H1311.4H1308.8V602.3H1306.1V623.3H1303.5V639.1H1300.9V654.9H1298.2V662.8H1295.6V673.3H1293V675.9H1290.4V678.5H1287.7V683.8H1285.1H1282.5V681.2H1279.8V683.8H1277.2V686.4H1274.6H1272H1269.3H1266.7H1264.1V689.1H1261.4H1258.8H1256.2H1253.5H1250.9V691.7H1248.3H1245.7V689.1H1243H1240.4H1237.8H1235.1V686.4H1232.5V691.7H1229.9H1227.2V686.4H1224.6V689.1H1222H1219.3V683.8H1216.7H1214.1V681.2H1211.5H1208.8V675.9H1206.2V673.3H1203.6V665.4H1200.9V657.5H1198.3V644.4H1195.7V628.6H1193V610.2H1190.4V604.9H1187.8V623.3H1185.2V639.1H1182.5V652.2H1179.9V665.4H1177.3V668H1174.6V673.3H1172V683.8H1169.4H1166.8H1164.1V681.2H1161.5H1158.9V686.4H1156.2H1153.6H1151H1148.3H1145.7H1143.1V691.7H1140.5H1137.8V686.4H1135.2V691.7H1132.6H1129.9V689.1H1127.3V686.4H1124.7V683.8H1122H1119.4V678.5H1116.8H1114.1V670.6H1111.5V668H1108.9V673.3H1106.3V675.9H1103.6V678.5H1101V683.8H1098.4V689.1H1095.7H1093.1V691.7H1090.5H1087.8V686.4H1085.2V689.1H1082.6V691.7H1080H1077.3V689.1H1074.7H1072.1V691.7H1069.4H1066.8V689.1H1064.2H1061.5H1058.9H1056.3V694.3H1053.7H1051V689.1H1048.4V691.7H1045.8V689.1H1043.1V691.7H1040.5H1037.9H1035.2V689.1H1032.6V691.7H1030H1027.4V694.3H1024.7H1022.1V691.7H1019.5V689.1H1016.8V691.7H1014.2H1011.6H1009H1006.3V689.1H1003.7V694.3H1001.1H998.4V691.7H995.8V689.1H993.2V691.7H990.5V694.3H987.9H985.3V689.1H982.6V694.3H980H977.4V689.1H974.8V691.7H972.1H969.5H966.9H964.2H961.6H959V694.3H956.3H953.7V689.1H951.1V694.3H948.5H945.8V691.7H943.2H940.6V689.1H937.9H935.3V686.4H932.7H930H927.4H924.8H922.2V691.7H919.5V686.4H916.9H914.3V689.1H911.6H909H906.4V686.4H903.8H901.1V681.2H898.5V675.9H895.9V673.3H893.2V665.4H890.6V654.9H888V647H885.3V641.7H882.7V644.4H880.1V654.9H877.5V665.4H874.8V670.6H872.2V675.9H869.6V681.2H866.9V683.8H864.3V686.4H861.7H859V683.8H856.4V686.4H853.8H851.1H848.5H845.9H843.3V691.7H840.6V689.1H838H835.4H832.7H830.1V686.4H827.5H824.8V691.7H822.2H819.6V686.4H817H814.3V691.7H811.7H809.1V686.4H806.4H803.8V691.7H801.2H798.5V683.8H795.9H793.3H790.7H788V686.4H785.4H782.8V683.8H780.1H777.5H774.9H772.2H769.6V686.4H767H764.4V678.5H761.7H759.1H756.5V673.3H753.8V670.6H751.2V668H748.6V665.4H746V660.1H743.3V657.5H740.7H738.1V654.9H735.4V644.4H732.8V633.8H730.2V615.4H727.5V586.5H724.9V552.3H722.3V505H719.6V455H717V394.5H714.4V423.4H711.8V483.9H709.1V544.4H706.5V578.6H703.9V607.5H701.2V628.6H698.6V644.4H696V649.6H693.3V657.5H690.7V662.8H688.1V665.4H685.5V670.6H682.8H680.2V673.3H677.6V678.5H674.9H672.3H669.7H667H664.4V675.9H661.8V681.2H659.2H656.5V673.3H653.9V681.2H651.3V675.9H648.6H646H643.4H640.8V678.5H638.1V673.3H635.5H632.9H630.2H627.6V670.6H625H622.3H619.7H617.1V665.4H614.5V660.1H611.8V654.9H609.2V644.4H606.6V631.2H603.9V618H601.3V602.3H598.7V607.5H596V623.3H593.4V636.5H590.8V647H588.1V657.5H585.5V668H582.9H580.3H577.6V678.5H575H572.4V673.3H569.7V678.5H567.1H564.5V675.9H561.8H559.2H556.6V678.5H554H551.3H548.7H546.1H543.4H540.8V675.9H538.2H535.5V683.8H532.9H530.3V678.5H527.7V686.4H525H522.4V681.2H519.8V678.5H517.1H514.5V683.8H511.9V686.4H509.2H506.6V678.5H504H501.4H498.7V681.2H496.1H493.5H490.8H488.2V678.5H485.6V681.2H482.9H480.3H477.7V683.8H475.1H472.4V681.2H469.8H467.2V675.9H464.5V681.2H461.9H459.3H456.6V678.5H454H451.4H448.8H446.1H443.5V675.9H440.9V681.2H438.2H435.6V675.9H433V681.2H430.3H427.7H425.1H422.5V678.5H419.8V675.9H417.2H414.6H411.9V678.5H409.3H406.7V683.8H404H401.4V675.9H398.8V681.2H396.2H393.5V675.9H390.9H388.3H385.6H383H380.4H377.8V681.2H375.1H372.5V678.5H369.9H367.2H364.6V675.9H362H359.3V673.3H356.7V670.6H354.1V668H351.4V670.6H348.8V673.3H346.2H343.6H340.9H338.3V668H335.7H333V673.3H330.4H327.8V678.5H325.1H322.5V673.3H319.9H317.3V675.9H314.6V681.2H312H309.4V675.9H306.7V673.3H304.1H301.5H298.9H296.2H293.6H291V670.6H288.3H285.7V668H283.1V673.3H280.4H277.8H275.2H272.5V665.4H269.9V668H267.3H264.7V662.8H262H259.4H256.8V660.1H254.1H251.5V654.9H248.9V660.1H246.2H243.6V654.9H241V649.6H238.4H235.7H233.1H230.5V652.2H227.8H225.2V647H222.6H219.9V644.4H217.3H214.7V641.7H212.1V633.8H209.4H206.8V636.5H204.2H201.5V625.9H198.9H196.3H193.6H191V623.3H188.4H185.8V618H183.1V623.3H180.5H177.9V610.2H175.2H172.6H170V612.8H167.3V615.4H164.7H162.1V604.9H159.5H156.8V602.3H154.2Z"/>
<path fill="#99008b" stroke="#99008b" stroke-width="2.6" d="M154.2 668H156.8H159.5V675.9H162.1V678.5H164.7H167.3V699.6H170V691.7H172.6H175.2V699.6H177.9V696.9H180.5V710.1H183.1H185.8V718H188.4V723.2H191V720.6H193.6V725.9H196.3V720.6H198.9V725.9H201.5V731.1H204.2V733.8H206.8V739H209.4H212.1H214.7V741.7H217.3V739H219.9H222.6V749.5H225.2H227.8V752.2H230.5V746.9H233.1H235.7V754.8H238.4V760.1H241V754.8H243.6V752.2H246.2H248.9V762.7H251.5H254.1H256.8H259.4V770.6H262H264.7V773.2H267.3H269.9H272.5H275.2V778.5H277.8H280.4H283.1V770.6H285.7H288.3V775.9H291H293.6V781.1H296.2V778.5H298.9H301.5V783.7H304.1V773.2H306.7H309.4V768H312H314.6V773.2H317.3V775.9H319.9H322.5V773.2H325.1V768H327.8H330.4V770.6H333H335.7H338.3H340.9V773.2H343.6H346.2H348.8V778.5H351.4V773.2H354.1V778.5H356.7H359.3V786.4H362V781.1H364.6H367.2V786.4H369.9V789H372.5V786.4H375.1H377.8H380.4H383V789H385.6H388.3H390.9H393.5H396.2H398.8H401.4H404H406.7H409.3V783.7H411.9V781.1H414.6H417.2V783.7H419.8H422.5V786.4H425.1V781.1H427.7H430.3V791.6H433V783.7H435.6H438.2V789H440.9V791.6H443.5H446.1V786.4H448.8V791.6H451.4V781.1H454H456.6V786.4H459.3H461.9H464.5V783.7H467.2H469.8V789H472.4V773.2H475.1V762.7H477.7H480.3V786.4H482.9V789H485.6H488.2V783.7H490.8H493.5V786.4H496.1V781.1H498.7V786.4H501.4V789H504H506.6V783.7H509.2H511.9V789H514.5H517.1H519.8H522.4V778.5H525H527.7V783.7H530.3V781.1H532.9H535.5V786.4H538.2V783.7H540.8V781.1H543.4H546.1V786.4H548.7V783.7H551.3V775.9H554H556.6V781.1H559.2H561.8V778.5H564.5V775.9H567.1H569.7H572.4V773.2H575V770.6H577.6V768H580.3V762.7H582.9V744.3H585.5H588.1V728.5H590.8V718H593.4V699.6H596V696.9H598.7H601.3V704.8H603.9V712.7H606.6V723.2H609.2V733.8H611.8V741.7H614.5V757.4H617.1H619.7V765.3H622.3H625V773.2H627.6H630.2H632.9H635.5V775.9H638.1H640.8H643.4H646V778.5H648.6V773.2H651.3V778.5H653.9V773.2H656.5V770.6H659.2V773.2H661.8V770.6H664.4V768H667H669.7V762.7H672.3H674.9V760.1H677.6V754.8H680.2H682.8V749.5H685.5H688.1V731.1H690.7H693.3V725.9H696V712.7H698.6V683.8H701.2V657.5H703.9V607.5H706.5V562.8H709.1V518.1H711.8V499.7H714.4H717V502.3H719.6V536.5H722.3V581.2H724.9V636.5H727.5V675.9H730.2V691.7H732.8V725.9H735.4V733.8H738.1V746.9H740.7V754.8H743.3V757.4H746H748.6V760.1H751.2H753.8V768H756.5V775.9H759.1V773.2H761.7H764.4V781.1H767V783.7H769.6H772.2V789H774.9H777.5H780.1H782.8H785.4H788V796.9H790.7V794.3H793.3H795.9V796.9H798.5H801.2H803.8V791.6H806.4V794.3H809.1V802.1H811.7V799.5H814.3V796.9H817V799.5H819.6V796.9H822.2H824.8V794.3H827.5V802.1H830.1V799.5H832.7H835.4V796.9H838V794.3H840.6H843.3V799.5H845.9H848.5H851.1V794.3H853.8V791.6H856.4H859H861.7V783.7H864.3V778.5H866.9H869.6V770.6H872.2V765.3H874.8V754.8H877.5V744.3H880.1V741.7H882.7H885.3H888V754.8H890.6V757.4H893.2V775.9H895.9V781.1H898.5H901.1V791.6H903.8V796.9H906.4H909H911.6V802.1H914.3H916.9V799.5H919.5H922.2V807.4H924.8H927.4V804.8H930V807.4H932.7H935.3H937.9V810H940.6V802.1H943.2H945.8V804.8H948.5H951.1V807.4H953.7V810H956.3V807.4H959H961.6V810H964.2V804.8H966.9H969.5V810H972.1H974.8V804.8H977.4V810H980H982.6V807.4H985.3H987.9V810H990.5H993.2H995.8V807.4H998.4H1001.1H1003.7H1006.3H1009V804.8H1011.6V807.4H1014.2V804.8H1016.8H1019.5V802.1H1022.1H1024.7H1027.4V799.5H1030H1032.6V804.8H1035.2H1037.9V802.1H1040.5H1043.1H1045.8V804.8H1048.4H1051H1053.7H1056.3H1058.9V799.5H1061.5H1064.2H1066.8V802.1H1069.4V796.9H1072.1H1074.7V802.1H1077.3H1080V796.9H1082.6V791.6H1085.2H1087.8V789H1090.5V794.3H1093.1V791.6H1095.7V783.7H1098.4H1101V775.9H1103.6V773.2H1106.3V770.6H1108.9H1111.5H1114.1V773.2H1116.8V781.1H1119.4V789H1122V791.6H1124.7H1127.3H1129.9H1132.6V799.5H1135.2V796.9H1137.8V799.5H1140.5V796.9H1143.1V794.3H1145.7H1148.3V791.6H1151V794.3H1153.6H1156.2V791.6H1158.9V786.4H1161.5H1164.1H1166.8V783.7H1169.4V778.5H1172H1174.6V775.9H1177.3V768H1179.9V754.8H1182.5V744.3H1185.2V736.4H1187.8V723.2H1190.4H1193V736.4H1195.7V746.9H1198.3V760.1H1200.9V768H1203.6V778.5H1206.2V786.4H1208.8V789H1211.5V791.6H1214.1H1216.7V796.9H1219.3H1222H1224.6V799.5H1227.2H1229.9V796.9H1232.5H1235.1H1237.8H1240.4V799.5H1243V796.9H1245.7V794.3H1248.3V796.9H1250.9H1253.5H1256.2V791.6H1258.8H1261.4V789H1264.1V786.4H1266.7H1269.3V789H1272H1274.6H1277.2V786.4H1279.8V783.7H1282.5H1285.1V781.1H1287.7V778.5H1290.4V775.9H1293V768H1295.6V765.3H1298.2V752.2H1300.9V739H1303.5V718H1306.1V699.6H1308.8V686.4H1311.4V683.8H1314V686.4H1316.7V696.9H1319.3V718H1321.9V733.8H1324.5V757.4H1327.2V770.6H1329.8V781.1H1332.4V789H1335.1H1337.7V794.3H1340.3V796.9H1343H1345.6V802.1H1348.2V796.9H1350.8V802.1H1353.5H1356.1H1358.7H1361.4V807.4H1364H1366.6V804.8H1369.3H1371.9V807.4H1374.5V810H1377.2V807.4H1379.8V804.8H1382.4H1385V810H1387.7V807.4H1390.3V804.8H1392.9H1395.6H1398.2V810H1400.8V812.7H1403.5H1406.1H1408.7H1411.3H1414H1416.6V807.4H1419.2H1421.9V810H1424.5H1427.1H1429.8V804.8H1432.4H1435V807.4H1437.6V810H1440.3H1442.9H1445.5V807.4H1448.2V804.8H1450.8H1453.4H1456H1458.7V810H1461.3H1463.9V807.4H1466.6H1469.2V804.8H1471.8H1474.5V807.4H1477.1H1479.7H1482.3H1485V799.5H1487.6H1490.2V802.1H1492.9H1495.5H1498.1V804.8H1500.8H1503.4H1506H1508.7H1511.3H1513.9V807.4H1516.5H1519.2V804.8H1521.8H1524.4V807.4H1527.1H1529.7V810H1532.3V804.8H1535H1537.6H1540.2H1542.8H1545.5V796.9H1548.1H1550.7H1553.4V794.3H1556V791.6H1558.6V789H1561.2H1563.9V791.6H1566.5H1569.1V796.9H1571.8V799.5H1574.4V802.1H1577H1579.7V804.8H1582.3V807.4H1584.9H1587.5V810H1590.2H1592.8H1595.4H1598.1H1600.7H1603.3H1606H1608.6H1611.2V815.3H1613.8H1616.5V812.7H1619.1H1621.7V810H1624.4H1627V812.7H1629.6V815.3H1632.3H1634.9H1637.5H1640.2H1642.8V812.7H1645.4H1648H1650.7H1653.3V807.4H1655.9V810H1658.6V815.3H1661.2V812.7H1663.8H1666.5V810H1669.1H1671.7H1674.3V812.7H1677H1679.6H1682.2V804.8H1684.9H1686.5V820.6H1684.9V823.2H1682.2V825.8H1679.6H1677V823.2H1674.3H1671.7V828.4H1669.1H1666.5V825.8H1663.8V823.2H1661.2H1658.6V825.8H1655.9H1653.3H1650.7H1648V831.1H1645.4H1642.8H1640.2H1637.5V825.8H1634.9H1632.3H1629.6H1627H1624.4V828.4H1621.7H1619.1H1616.5H1613.8H1611.2V825.8H1608.6V828.4H1606H1603.3H1600.7V823.2H1598.1H1595.4H1592.8V825.8H1590.2H1587.5V823.2H1584.9V817.9H1582.3H1579.7H1577H1574.4V812.7H1571.8H1569.1V807.4H1566.5V804.8H1563.9H1561.2H1558.6V810H1556H1553.4V815.3H1550.7H1548.1V817.9H1545.5H1542.8V820.6H1540.2H1537.6V823.2H1535H1532.3V820.6H1529.7H1527.1H1524.4V825.8H1521.8H1519.2V823.2H1516.5V820.6H1513.9H1511.3H1508.7H1506H1503.4H1500.8V817.9H1498.1H1495.5V820.6H1492.9H1490.2V817.9H1487.6V820.6H1485H1482.3H1479.7H1477.1H1474.5V823.2H1471.8H1469.2H1466.6H1463.9V820.6H1461.3V825.8H1458.7H1456V823.2H1453.4V820.6H1450.8V823.2H1448.2H1445.5H1442.9V820.6H1440.3V823.2H1437.6H1435V820.6H1432.4V823.2H1429.8H1427.1V820.6H1424.5V823.2H1421.9V825.8H1419.2V820.6H1416.6V823.2H1414V820.6H1411.3H1408.7V823.2H1406.1H1403.5V825.8H1400.8V823.2H1398.2H1395.6V820.6H1392.9V823.2H1390.3V825.8H1387.7H1385V823.2H1382.4H1379.8V820.6H1377.2V823.2H1374.5H1371.9H1369.3H1366.6V820.6H1364H1361.4H1358.7V817.9H1356.1H1353.5V815.3H1350.8H1348.2V812.7H1345.6H1343H1340.3H1337.7V807.4H1335.1V804.8H1332.4H1329.8V799.5H1327.2V791.6H1324.5V775.9H1321.9V760.1H1319.3V739H1316.7V718H1314V702.2H1311.4V720.6H1308.8V739H1306.1V768H1303.5H1300.9V778.5H1298.2V789H1295.6V791.6H1293H1290.4V799.5H1287.7V802.1H1285.1H1282.5H1279.8V807.4H1277.2H1274.6H1272V810H1269.3H1266.7V815.3H1264.1H1261.4V812.7H1258.8V815.3H1256.2H1253.5V817.9H1250.9H1248.3V810H1245.7V815.3H1243H1240.4V812.7H1237.8H1235.1V815.3H1232.5H1229.9H1227.2H1224.6V810H1222V815.3H1219.3H1216.7V810H1214.1H1211.5V804.8H1208.8V802.1H1206.2H1203.6V794.3H1200.9V786.4H1198.3V778.5H1195.7V768H1193V757.4H1190.4V749.5H1187.8V762.7H1185.2V773.2H1182.5V783.7H1179.9V799.5H1177.3H1174.6V796.9H1172V799.5H1169.4V802.1H1166.8H1164.1V804.8H1161.5V812.7H1158.9H1156.2V815.3H1153.6H1151H1148.3H1145.7V810H1143.1V812.7H1140.5H1137.8V810H1135.2V812.7H1132.6H1129.9V815.3H1127.3H1124.7V810H1122V804.8H1119.4V802.1H1116.8V799.5H1114.1V789H1111.5V783.7H1108.9V786.4H1106.3V794.3H1103.6V799.5H1101V804.8H1098.4H1095.7V810H1093.1H1090.5V812.7H1087.8H1085.2V817.9H1082.6V815.3H1080H1077.3V820.6H1074.7H1072.1V817.9H1069.4H1066.8H1064.2V815.3H1061.5V823.2H1058.9H1056.3V815.3H1053.7V820.6H1051H1048.4V815.3H1045.8V817.9H1043.1H1040.5H1037.9H1035.2H1032.6H1030H1027.4H1024.7V820.6H1022.1H1019.5H1016.8V825.8H1014.2H1011.6V823.2H1009H1006.3V817.9H1003.7V820.6H1001.1H998.4H995.8H993.2H990.5H987.9V825.8H985.3H982.6V820.6H980V825.8H977.4H974.8V823.2H972.1V825.8H969.5H966.9V823.2H964.2H961.6V820.6H959V823.2H956.3V820.6H953.7V823.2H951.1H948.5H945.8V820.6H943.2H940.6V817.9H937.9H935.3H932.7V820.6H930V823.2H927.4H924.8V817.9H922.2V820.6H919.5H916.9V815.3H914.3H911.6H909V812.7H906.4V810H903.8H901.1V807.4H898.5V802.1H895.9V796.9H893.2V789H890.6V781.1H888V768H885.3V757.4H882.7V760.1H880.1V770.6H877.5V789H874.8H872.2V794.3H869.6V799.5H866.9V804.8H864.3H861.7V810H859V812.7H856.4H853.8V810H851.1H848.5V815.3H845.9H843.3V812.7H840.6V817.9H838H835.4V815.3H832.7V817.9H830.1H827.5V815.3H824.8H822.2H819.6H817V812.7H814.3V815.3H811.7V820.6H809.1H806.4V812.7H803.8V817.9H801.2V815.3H798.5H795.9V812.7H793.3V807.4H790.7H788H785.4H782.8V810H780.1H777.5V802.1H774.9H772.2V804.8H769.6V802.1H767H764.4V796.9H761.7V799.5H759.1H756.5V794.3H753.8V789H751.2H748.6H746H743.3V773.2H740.7H738.1V765.3H735.4V762.7H732.8V746.9H730.2V728.5H727.5V707.5H724.9V673.3H722.3V631.2H719.6V583.9H717V536.5H714.4V554.9H711.8V612.8H709.1V654.9H706.5V691.7H703.9V718H701.2V736.4H698.6V746.9H696V760.1H693.3V762.7H690.7V765.3H688.1V773.2H685.5V770.6H682.8V783.7H680.2H677.6V778.5H674.9V783.7H672.3V791.6H669.7V789H667H664.4V796.9H661.8V794.3H659.2H656.5H653.9H651.3V791.6H648.6V799.5H646V796.9H643.4H640.8H638.1V791.6H635.5V789H632.9V799.5H630.2H627.6V796.9H625V789H622.3V794.3H619.7H617.1V781.1H614.5H611.8V770.6H609.2V760.1H606.6V757.4H603.9V739H601.3V725.9H598.7H596V744.3H593.4V752.2H590.8V762.7H588.1V778.5H585.5H582.9V781.1H580.3V786.4H577.6V789H575V794.3H572.4H569.7H567.1V791.6H564.5H561.8V794.3H559.2H556.6V799.5H554H551.3V802.1H548.7H546.1H543.4H540.8V799.5H538.2H535.5V804.8H532.9H530.3V807.4H527.7H525H522.4H519.8V804.8H517.1V807.4H514.5H511.9V804.8H509.2H506.6V802.1H504V807.4H501.4H498.7V804.8H496.1H493.5H490.8V802.1H488.2H485.6V804.8H482.9H480.3V799.5H477.7V807.4H475.1H472.4H469.8V804.8H467.2V807.4H464.5H461.9H459.3H456.6V804.8H454V810H451.4V807.4H448.8H446.1V802.1H443.5V807.4H440.9V812.7H438.2V804.8H435.6V807.4H433H430.3V802.1H427.7V804.8H425.1V807.4H422.5H419.8V810H417.2H414.6V804.8H411.9V812.7H409.3H406.7V807.4H404H401.4H398.8V804.8H396.2V802.1H393.5V804.8H390.9V810H388.3H385.6V804.8H383H380.4V807.4H377.8H375.1H372.5H369.9H367.2V802.1H364.6V799.5H362H359.3H356.7H354.1H351.4V804.8H348.8H346.2V791.6H343.6V794.3H340.9H338.3V789H335.7V796.9H333H330.4V799.5H327.8V794.3H325.1H322.5V791.6H319.9H317.3V802.1H314.6H312V796.9H309.4V794.3H306.7V796.9H304.1V804.8H301.5V802.1H298.9V799.5H296.2V794.3H293.6V799.5H291H288.3V794.3H285.7H283.1V799.5H280.4H277.8V802.1H275.2H272.5V794.3H269.9H267.3H264.7V791.6H262H259.4V794.3H256.8V789H254.1V783.7H251.5H248.9V791.6H246.2H243.6V775.9H241V783.7H238.4H235.7V770.6H233.1V768H230.5V770.6H227.8H225.2V773.2H222.6H219.9H217.3V765.3H214.7V760.1H212.1V762.7H209.4H206.8H204.2V760.1H201.5V754.8H198.9V752.2H196.3V754.8H193.6H191V749.5H188.4V754.8H185.8H183.1V746.9H180.5V736.4H177.9V733.8H175.2H172.6V723.2H170V725.9H167.3H164.7V720.6H162.1V723.2H159.5V707.5H156.8V704.8H154.2Z"/>
<path fill="#008600" stroke="#008600" stroke-width="2.6" d="M154.2 873.2H156.8H159.5H162.1V875.8H164.7V870.5H167.3H170H172.6V875.8H175.2V873.2H177.9H180.5V886.3H183.1V888.9H185.8H188.4H191H193.6V894.2H196.3V888.9H198.9V899.5H201.5V894.2H204.2H206.8V902.1H209.4H212.1H214.7V904.7H217.3H219.9V907.3H222.6V915.2H225.2H227.8H230.5H233.1V917.9H235.7V915.2H238.4V912.6H241V917.9H243.6H246.2H248.9H251.5V920.5H254.1H256.8H259.4V925.8H262H264.7V928.4H267.3V925.8H269.9V923.1H272.5H275.2V931H277.8H280.4H283.1V936.3H285.7H288.3V938.9H291H293.6V936.3H296.2H298.9H301.5V941.5H304.1V933.6H306.7H309.4V941.5H312H314.6V936.3H317.3H319.9V938.9H322.5H325.1V936.3H327.8V928.4H330.4H333V925.8H335.7H338.3V928.4H340.9V931H343.6V933.6H346.2H348.8V936.3H351.4H354.1V946.8H356.7H359.3H362H364.6H367.2V944.2H369.9H372.5H375.1V941.5H377.8H380.4H383V944.2H385.6H388.3H390.9H393.5H396.2H398.8H401.4V941.5H404H406.7V946.8H409.3V941.5H411.9H414.6H417.2V944.2H419.8V946.8H422.5V941.5H425.1H427.7V944.2H430.3H433V946.8H435.6V944.2H438.2H440.9V946.8H443.5H446.1V949.4H448.8V946.8H451.4H454V949.4H456.6V941.5H459.3H461.9H464.5V944.2H467.2V946.8H469.8V941.5H472.4H475.1V946.8H477.7H480.3H482.9V944.2H485.6H488.2H490.8H493.5V946.8H496.1H498.7V941.5H501.4V946.8H504V944.2H506.6H509.2V946.8H511.9V944.2H514.5H517.1V949.4H519.8H522.4V946.8H525V944.2H527.7H530.3V946.8H532.9V941.5H535.5H538.2V949.4H540.8V944.2H543.4H546.1H548.7H551.3V946.8H554H556.6H559.2V949.4H561.8V941.5H564.5H567.1V944.2H569.7H572.4H575H577.6V938.9H580.3V931H582.9V923.1H585.5V912.6H588.1V894.2H590.8V875.8H593.4V862.6H596V860H598.7H601.3V867.9H603.9V881H606.6V899.5H609.2V912.6H611.8V923.1H614.5V931H617.1H619.7V936.3H622.3V938.9H625V933.6H627.6H630.2V936.3H632.9H635.5V933.6H638.1H640.8V936.3H643.4H646V933.6H648.6H651.3V938.9H653.9V941.5H656.5H659.2H661.8V938.9H664.4V936.3H667H669.7V938.9H672.3V933.6H674.9H677.6V931H680.2H682.8V928.4H685.5V923.1H688.1V915.2H690.7V910H693.3V904.7H696V891.6H698.6V867.9H701.2V833.7H703.9V786.4H706.5V723.2H709.1V660.1H711.8V639.1H714.4H717V644.4H719.6V691.7H722.3V754.8H724.9V802.1H727.5V852.1H730.2V881H732.8V888.9H735.4V910H738.1V915.2H740.7H743.3V920.5H746V928.4H748.6H751.2V931H753.8V933.6H756.5V936.3H759.1V941.5H761.7H764.4V944.2H767V946.8H769.6H772.2V949.4H774.9H777.5H780.1V952.1H782.8V946.8H785.4V949.4H788V952.1H790.7V949.4H793.3H795.9H798.5V952.1H801.2V954.7H803.8V949.4H806.4H809.1V954.7H811.7H814.3H817V952.1H819.6H822.2V954.7H824.8H827.5H830.1H832.7H835.4H838V952.1H840.6V954.7H843.3H845.9V952.1H848.5H851.1H853.8V946.8H856.4H859V952.1H861.7H864.3V949.4H866.9V944.2H869.6V938.9H872.2V933.6H874.8V925.8H877.5V915.2H880.1V904.7H882.7H885.3V907.3H888V915.2H890.6V925.8H893.2V936.3H895.9V941.5H898.5V946.8H901.1V949.4H903.8V954.7H906.4H909H911.6H914.3H916.9H919.5V959.9H922.2H924.8H927.4H930H932.7V962.6H935.3H937.9H940.6V957.3H943.2H945.8V959.9H948.5H951.1V962.6H953.7V959.9H956.3H959V957.3H961.6V959.9H964.2V962.6H966.9H969.5V957.3H972.1H974.8V959.9H977.4H980H982.6H985.3H987.9H990.5V962.6H993.2H995.8V959.9H998.4H1001.1V962.6H1003.7V957.3H1006.3H1009V959.9H1011.6H1014.2H1016.8H1019.5H1022.1V962.6H1024.7H1027.4V959.9H1030H1032.6V962.6H1035.2V959.9H1037.9H1040.5H1043.1V962.6H1045.8H1048.4V959.9H1051V957.3H1053.7H1056.3V959.9H1058.9V957.3H1061.5H1064.2H1066.8V959.9H1069.4H1072.1V954.7H1074.7H1077.3V957.3H1080V959.9H1082.6H1085.2V957.3H1087.8V952.1H1090.5H1093.1V949.4H1095.7H1098.4H1101V944.2H1103.6V941.5H1106.3V936.3H1108.9V933.6H1111.5H1114.1V938.9H1116.8V941.5H1119.4V944.2H1122H1124.7V949.4H1127.3H1129.9H1132.6H1135.2V952.1H1137.8V954.7H1140.5H1143.1V946.8H1145.7H1148.3V949.4H1151H1153.6V946.8H1156.2H1158.9H1161.5H1164.1V944.2H1166.8V938.9H1169.4H1172V936.3H1174.6V928.4H1177.3V917.9H1179.9V899.5H1182.5V886.3H1185.2V867.9H1187.8H1190.4V870.5H1193V875.8H1195.7V888.9H1198.3V910H1200.9V925.8H1203.6V933.6H1206.2V938.9H1208.8V946.8H1211.5H1214.1V954.7H1216.7H1219.3V952.1H1222H1224.6V957.3H1227.2H1229.9H1232.5V954.7H1235.1H1237.8V957.3H1240.4H1243H1245.7H1248.3V954.7H1250.9H1253.5H1256.2V952.1H1258.8V949.4H1261.4H1264.1V952.1H1266.7V944.2H1269.3V941.5H1272V938.9H1274.6V941.5H1277.2V936.3H1279.8H1282.5V938.9H1285.1V931H1287.7H1290.4V933.6H1293V931H1295.6V920.5H1298.2V915.2H1300.9V902.1H1303.5V881H1306.1V857.4H1308.8V844.2H1311.4V841.6H1314H1316.7V857.4H1319.3V875.8H1321.9V904.7H1324.5V923.1H1327.2V931H1329.8V944.2H1332.4V952.1H1335.1V954.7H1337.7V957.3H1340.3H1343V954.7H1345.6V957.3H1348.2H1350.8H1353.5H1356.1V959.9H1358.7V962.6H1361.4H1364H1366.6H1369.3H1371.9H1374.5H1377.2H1379.8H1382.4H1385H1387.7H1390.3V965.2H1392.9V959.9H1395.6H1398.2V962.6H1400.8H1403.5V965.2H1406.1H1408.7H1411.3H1414V962.6H1416.6H1419.2V959.9H1421.9V962.6H1424.5V965.2H1427.1H1429.8V962.6H1432.4H1435V965.2H1437.6H1440.3H1442.9H1445.5H1448.2V962.6H1450.8H1453.4V965.2H1456H1458.7H1461.3V962.6H1463.9V965.2H1466.6H1469.2H1471.8V962.6H1474.5H1477.1H1479.7V965.2H1482.3V959.9H1485H1487.6H1490.2H1492.9H1495.5V957.3H1498.1H1500.8H1503.4V959.9H1506H1508.7H1511.3H1513.9V962.6H1516.5V965.2H1519.2V959.9H1521.8H1524.4V965.2H1527.1H1529.7V959.9H1532.3H1535V962.6H1537.6V957.3H1540.2H1542.8V954.7H1545.5H1548.1H1550.7V952.1H1553.4V949.4H1556V944.2H1558.6H1561.2V946.8H1563.9H1566.5H1569.1H1571.8H1574.4V952.1H1577V954.7H1579.7H1582.3H1584.9V959.9H1587.5H1590.2V962.6H1592.8H1595.4H1598.1V959.9H1600.7H1603.3H1606V962.6H1608.6H1611.2H1613.8V965.2H1616.5H1619.1H1621.7V962.6H1624.4H1627V965.2H1629.6V967.8H1632.3V965.2H1634.9H1637.5H1640.2V967.8H1642.8V962.6H1645.4H1648H1650.7V967.8H1653.3H1655.9V965.2H1658.6H1661.2V967.8H1663.8V962.6H1666.5H1669.1V965.2H1671.7H1674.3V959.9H1677H1679.6V965.2H1682.2V962.6H1684.9H1686.5V975.7H1684.9H1682.2V981H1679.6H1677V975.7H1674.3V978.4H1671.7H1669.1H1666.5H1663.8V975.7H1661.2H1658.6V978.4H1655.9H1653.3V975.7H1650.7H1648V978.4H1645.4H1642.8V981H1640.2H1637.5V975.7H1634.9H1632.3H1629.6H1627H1624.4H1621.7H1619.1H1616.5H1613.8V978.4H1611.2V981H1608.6V975.7H1606H1603.3H1600.7H1598.1H1595.4H1592.8H1590.2H1587.5H1584.9V973.1H1582.3H1579.7H1577V965.2H1574.4H1571.8V962.6H1569.1H1566.5H1563.9V959.9H1561.2H1558.6V965.2H1556H1553.4V967.8H1550.7V973.1H1548.1H1545.5H1542.8V975.7H1540.2H1537.6H1535H1532.3H1529.7H1527.1H1524.4H1521.8H1519.2H1516.5H1513.9V978.4H1511.3H1508.7V973.1H1506H1503.4H1500.8V970.5H1498.1H1495.5H1492.9V973.1H1490.2H1487.6H1485H1482.3V978.4H1479.7H1477.1V975.7H1474.5H1471.8H1469.2H1466.6H1463.9H1461.3H1458.7H1456H1453.4H1450.8H1448.2V978.4H1445.5V981H1442.9V978.4H1440.3H1437.6H1435V981H1432.4V975.7H1429.8V978.4H1427.1H1424.5V975.7H1421.9H1419.2H1416.6V981H1414H1411.3V978.4H1408.7H1406.1H1403.5V975.7H1400.8H1398.2H1395.6H1392.9H1390.3H1387.7H1385H1382.4H1379.8H1377.2H1374.5H1371.9H1369.3V978.4H1366.6H1364V975.7H1361.4V973.1H1358.7H1356.1V975.7H1353.5H1350.8V973.1H1348.2H1345.6H1343V970.5H1340.3H1337.7V967.8H1335.1V965.2H1332.4V962.6H1329.8V957.3H1327.2V952.1H1324.5V941.5H1321.9V931H1319.3V907.3H1316.7V883.7H1314V865.3H1311.4V881H1308.8V902.1H1306.1V917.9H1303.5V931H1300.9V938.9H1298.2V949.4H1295.6H1293V946.8H1290.4V949.4H1287.7V959.9H1285.1H1282.5V952.1H1279.8V954.7H1277.2V957.3H1274.6V965.2H1272V962.6H1269.3V965.2H1266.7H1264.1H1261.4H1258.8V970.5H1256.2H1253.5H1250.9V967.8H1248.3H1245.7V970.5H1243H1240.4H1237.8H1235.1H1232.5V967.8H1229.9H1227.2V970.5H1224.6H1222V967.8H1219.3V965.2H1216.7V967.8H1214.1H1211.5V962.6H1208.8V959.9H1206.2V957.3H1203.6V952.1H1200.9V944.2H1198.3V931H1195.7V915.2H1193V896.8H1190.4V891.6H1187.8V907.3H1185.2V923.1H1182.5V936.3H1179.9V946.8H1177.3V949.4H1174.6V952.1H1172V954.7H1169.4V957.3H1166.8H1164.1H1161.5V962.6H1158.9H1156.2V959.9H1153.6V962.6H1151V967.8H1148.3V962.6H1145.7V965.2H1143.1H1140.5H1137.8V970.5H1135.2H1132.6V965.2H1129.9V967.8H1127.3V965.2H1124.7V962.6H1122H1119.4V959.9H1116.8V954.7H1114.1V952.1H1111.5V949.4H1108.9V954.7H1106.3V959.9H1103.6V967.8H1101H1098.4H1095.7H1093.1H1090.5V970.5H1087.8H1085.2V975.7H1082.6H1080V973.1H1077.3V970.5H1074.7V973.1H1072.1H1069.4V970.5H1066.8H1064.2V973.1H1061.5H1058.9V970.5H1056.3V978.4H1053.7H1051V973.1H1048.4H1045.8V975.7H1043.1H1040.5H1037.9H1035.2H1032.6H1030V973.1H1027.4H1024.7V978.4H1022.1H1019.5V975.7H1016.8H1014.2V973.1H1011.6H1009H1006.3H1003.7H1001.1H998.4H995.8H993.2H990.5V975.7H987.9H985.3H982.6V978.4H980H977.4V973.1H974.8H972.1H969.5V978.4H966.9H964.2H961.6H959V975.7H956.3H953.7H951.1H948.5V973.1H945.8V975.7H943.2H940.6H937.9H935.3V973.1H932.7H930H927.4V978.4H924.8H922.2V975.7H919.5H916.9V970.5H914.3V973.1H911.6H909V970.5H906.4V967.8H903.8V965.2H901.1H898.5H895.9V957.3H893.2V949.4H890.6V941.5H888V931H885.3V923.1H882.7V928.4H880.1V941.5H877.5V949.4H874.8V954.7H872.2V957.3H869.6V959.9H866.9V965.2H864.3V967.8H861.7V970.5H859V962.6H856.4V965.2H853.8H851.1H848.5H845.9V967.8H843.3H840.6H838V973.1H835.4V967.8H832.7H830.1H827.5V970.5H824.8H822.2V965.2H819.6H817V967.8H814.3V973.1H811.7H809.1V967.8H806.4V970.5H803.8H801.2V967.8H798.5V965.2H795.9V967.8H793.3V965.2H790.7H788V962.6H785.4H782.8H780.1H777.5V959.9H774.9V962.6H772.2H769.6V957.3H767H764.4V954.7H761.7H759.1H756.5H753.8V946.8H751.2H748.6V944.2H746V946.8H743.3V938.9H740.7V933.6H738.1V931H735.4V925.8H732.8V917.9H730.2V907.3H727.5V881H724.9V849.5H722.3V807.4H719.6V752.2H717V683.8H714.4V712.7H711.8V775.9H709.1V828.4H706.5V867.9H703.9V894.2H701.2V910H698.6V923.1H696V928.4H693.3V936.3H690.7V938.9H688.1V941.5H685.5H682.8V954.7H680.2H677.6V952.1H674.9H672.3H669.7V949.4H667V952.1H664.4H661.8V954.7H659.2H656.5V957.3H653.9H651.3V954.7H648.6V952.1H646H643.4V957.3H640.8H638.1V954.7H635.5H632.9V952.1H630.2V954.7H627.6H625H622.3V952.1H619.7V949.4H617.1V952.1H614.5V941.5H611.8V938.9H609.2V931H606.6V925.8H603.9V904.7H601.3V886.3H598.7V881H596V899.5H593.4V917.9H590.8V931H588.1V941.5H585.5V949.4H582.9V952.1H580.3V954.7H577.6V959.9H575H572.4V957.3H569.7V959.9H567.1H564.5V962.6H561.8V965.2H559.2V962.6H556.6V959.9H554H551.3V965.2H548.7H546.1V962.6H543.4H540.8H538.2V959.9H535.5V962.6H532.9H530.3H527.7V965.2H525H522.4H519.8V967.8H517.1H514.5V962.6H511.9V965.2H509.2H506.6V959.9H504V965.2H501.4H498.7V962.6H496.1H493.5V957.3H490.8V962.6H488.2H485.6V965.2H482.9V959.9H480.3V962.6H477.7H475.1V957.3H472.4H469.8V962.6H467.2H464.5V957.3H461.9V965.2H459.3H456.6H454H451.4V959.9H448.8H446.1V957.3H443.5H440.9H438.2V962.6H435.6H433H430.3V957.3H427.7V962.6H425.1H422.5V959.9H419.8H417.2H414.6H411.9H409.3V962.6H406.7V959.9H404V965.2H401.4V959.9H398.8V965.2H396.2H393.5V959.9H390.9H388.3H385.6V962.6H383V957.3H380.4H377.8V962.6H375.1H372.5V959.9H369.9H367.2H364.6H362V965.2H359.3V962.6H356.7H354.1V957.3H351.4V954.7H348.8V952.1H346.2V949.4H343.6V946.8H340.9H338.3V941.5H335.7H333V946.8H330.4V954.7H327.8H325.1H322.5H319.9H317.3V957.3H314.6H312V954.7H309.4V952.1H306.7V957.3H304.1V954.7H301.5H298.9H296.2V957.3H293.6H291H288.3H285.7V949.4H283.1H280.4V952.1H277.8H275.2V946.8H272.5V944.2H269.9V941.5H267.3V949.4H264.7H262V941.5H259.4V944.2H256.8V946.8H254.1H251.5V933.6H248.9V941.5H246.2H243.6H241V938.9H238.4H235.7V933.6H233.1V931H230.5V933.6H227.8H225.2H222.6H219.9V923.1H217.3V928.4H214.7H212.1V923.1H209.4V917.9H206.8V920.5H204.2V915.2H201.5H198.9V910H196.3V912.6H193.6V910H191V912.6H188.4H185.8H183.1V910H180.5H177.9V907.3H175.2H172.6V896.8H170H167.3H164.7H162.1H159.5H156.8H154.2Z"/>
<path fill="#ff0000" stroke="#ff0000" stroke-width="2.6" d="M154.2 978.4H156.8V965.2H159.5H162.1V970.5H164.7V983.6H167.3H170H172.6V986.2H175.2V994.1H177.9H180.5H183.1V999.4H185.8V1002H188.4V999.4H191V996.8H193.6H196.3V1009.9H198.9V1012.5H201.5V1007.3H204.2V1020.4H206.8V1017.8H209.4H212.1H214.7H217.3V1031H219.9V1036.2H222.6V1031H225.2H227.8V1038.8H230.5H233.1V1046.7H235.7H238.4H241V1041.5H243.6H246.2V1052H248.9V1054.6H251.5H254.1V1059.9H256.8H259.4H262V1057.3H264.7H267.3H269.9V1067.8H272.5H275.2V1070.4H277.8V1067.8H280.4V1062.5H283.1V1067.8H285.7V1073H288.3V1075.7H291H293.6H296.2V1070.4H298.9H301.5V1078.3H304.1H306.7H309.4V1070.4H312H314.6V1075.7H317.3H319.9H322.5V1073H325.1H327.8V1070.4H330.4H333H335.7V1073H338.3H340.9V1075.7H343.6H346.2V1073H348.8V1070.4H351.4H354.1V1075.7H356.7V1078.3H359.3V1075.7H362H364.6H367.2H369.9H372.5V1083.6H375.1V1080.9H377.8V1083.6H380.4H383H385.6V1086.2H388.3H390.9H393.5V1080.9H396.2H398.8V1083.6H401.4V1080.9H404V1083.6H406.7V1086.2H409.3V1088.8H411.9V1083.6H414.6H417.2V1088.8H419.8V1094.1H422.5V1091.5H425.1H427.7H430.3V1094.1H433H435.6V1091.5H438.2V1088.8H440.9V1091.5H443.5H446.1V1088.8H448.8H451.4V1094.1H454V1091.5H456.6H459.3V1088.8H461.9V1094.1H464.5V1088.8H467.2H469.8H472.4H475.1H477.7V1091.5H480.3H482.9V1094.1H485.6H488.2H490.8V1088.8H493.5H496.1V1094.1H498.7V1091.5H501.4H504V1094.1H506.6H509.2H511.9H514.5H517.1H519.8V1088.8H522.4H525H527.7H530.3V1094.1H532.9H535.5H538.2V1091.5H540.8V1088.8H543.4H546.1V1091.5H548.7V1094.1H551.3V1091.5H554H556.6V1088.8H559.2H561.8H564.5V1091.5H567.1V1088.8H569.7V1080.9H572.4H575V1078.3H577.6V1075.7H580.3V1067.8H582.9V1057.3H585.5V1041.5H588.1V1023.1H590.8V1015.2H593.4H596H598.7V1023.1H601.3V1038.8H603.9V1054.6H606.6V1065.1H609.2V1075.7H611.8V1080.9H614.5H617.1H619.7H622.3V1088.8H625H627.6V1086.2H630.2H632.9H635.5H638.1V1088.8H640.8H643.4H646H648.6H651.3V1091.5H653.9V1088.8H656.5H659.2H661.8H664.4H667H669.7V1086.2H672.3H674.9V1080.9H677.6H680.2H682.8V1078.3H685.5H688.1V1073H690.7V1065.1H693.3V1049.4H696V1038.8H698.6V1015.2H701.2V970.5H703.9V928.4H706.5V865.3H709.1V810H711.8V781.1H714.4H717V791.6H719.6V833.7H722.3V894.2H724.9V946.8H727.5V991.5H730.2V1020.4H732.8V1036.2H735.4V1049.4H738.1V1057.3H740.7V1062.5H743.3V1070.4H746V1073H748.6V1075.7H751.2H753.8H756.5V1083.6H759.1V1086.2H761.7V1088.8H764.4V1091.5H767H769.6H772.2V1088.8H774.9H777.5V1096.7H780.1H782.8V1094.1H785.4H788H790.7V1096.7H793.3H795.9H798.5H801.2V1099.3H803.8H806.4H809.1H811.7H814.3V1096.7H817V1091.5H819.6V1099.3H822.2V1096.7H824.8V1094.1H827.5V1096.7H830.1H832.7H835.4H838V1091.5H840.6H843.3V1096.7H845.9H848.5H851.1V1094.1H853.8V1096.7H856.4V1094.1H859H861.7V1091.5H864.3V1088.8H866.9V1083.6H869.6V1078.3H872.2V1067.8H874.8V1057.3H877.5V1049.4H880.1V1044.1H882.7V1046.7H885.3V1054.6H888V1062.5H890.6V1070.4H893.2V1078.3H895.9V1083.6H898.5V1091.5H901.1V1094.1H903.8V1096.7H906.4V1091.5H909V1094.1H911.6V1099.3H914.3H916.9V1096.7H919.5V1099.3H922.2H924.8H927.4H930H932.7V1102H935.3V1096.7H937.9V1094.1H940.6V1096.7H943.2V1102H945.8V1099.3H948.5H951.1H953.7V1096.7H956.3H959V1099.3H961.6H964.2H966.9H969.5V1096.7H972.1H974.8V1099.3H977.4H980H982.6H985.3H987.9H990.5V1102H993.2H995.8H998.4H1001.1H1003.7H1006.3H1009V1099.3H1011.6H1014.2H1016.8H1019.5V1102H1022.1H1024.7H1027.4V1096.7H1030H1032.6V1102H1035.2H1037.9V1096.7H1040.5H1043.1H1045.8H1048.4V1102H1051H1053.7H1056.3V1096.7H1058.9H1061.5V1099.3H1064.2V1096.7H1066.8H1069.4V1099.3H1072.1H1074.7V1094.1H1077.3H1080H1082.6H1085.2V1091.5H1087.8H1090.5H1093.1H1095.7V1086.2H1098.4V1088.8H1101V1083.6H1103.6V1080.9H1106.3V1070.4H1108.9H1111.5V1067.8H1114.1V1073H1116.8V1075.7H1119.4V1078.3H1122V1080.9H1124.7V1083.6H1127.3H1129.9V1091.5H1132.6H1135.2H1137.8V1094.1H1140.5V1088.8H1143.1H1145.7V1094.1H1148.3H1151V1086.2H1153.6H1156.2V1088.8H1158.9H1161.5V1086.2H1164.1V1080.9H1166.8V1073H1169.4H1172V1059.9H1174.6V1049.4H1177.3V1031H1179.9V1009.9H1182.5V996.8H1185.2V994.1H1187.8H1190.4V999.4H1193V1020.4H1195.7V1041.5H1198.3V1057.3H1200.9V1067.8H1203.6V1078.3H1206.2H1208.8V1083.6H1211.5H1214.1V1088.8H1216.7V1091.5H1219.3V1088.8H1222H1224.6V1091.5H1227.2V1086.2H1229.9H1232.5V1091.5H1235.1H1237.8H1240.4V1094.1H1243H1245.7H1248.3V1091.5H1250.9H1253.5H1256.2V1088.8H1258.8H1261.4V1091.5H1264.1V1094.1H1266.7V1086.2H1269.3V1088.8H1272V1091.5H1274.6V1086.2H1277.2H1279.8V1088.8H1282.5V1080.9H1285.1H1287.7V1083.6H1290.4V1078.3H1293V1073H1295.6V1062.5H1298.2V1046.7H1300.9V1025.7H1303.5V999.4H1306.1V975.7H1308.8V967.8H1311.4H1314V970.5H1316.7V988.9H1319.3V1015.2H1321.9V1038.8H1324.5V1057.3H1327.2V1067.8H1329.8V1070.4H1332.4V1083.6H1335.1V1088.8H1337.7V1086.2H1340.3H1343V1091.5H1345.6V1094.1H1348.2V1091.5H1350.8H1353.5V1096.7H1356.1H1358.7V1094.1H1361.4H1364H1366.6H1369.3V1096.7H1371.9V1094.1H1374.5H1377.2V1099.3H1379.8V1094.1H1382.4V1096.7H1385V1094.1H1387.7H1390.3V1099.3H1392.9V1102H1395.6V1096.7H1398.2H1400.8V1102H1403.5V1096.7H1406.1H1408.7V1099.3H1411.3V1102H1414H1416.6V1096.7H1419.2H1421.9V1099.3H1424.5H1427.1V1102H1429.8V1104.6H1432.4V1102H1435H1437.6V1099.3H1440.3H1442.9V1104.6H1445.5H1448.2H1450.8V1102H1453.4V1099.3H1456H1458.7V1102H1461.3H1463.9H1466.6H1469.2H1471.8H1474.5V1099.3H1477.1V1091.5H1479.7H1482.3H1485V1088.8H1487.6V1086.2H1490.2H1492.9H1495.5V1088.8H1498.1H1500.8V1094.1H1503.4V1091.5H1506H1508.7V1096.7H1511.3H1513.9V1099.3H1516.5H1519.2H1521.8V1096.7H1524.4V1099.3H1527.1H1529.7V1096.7H1532.3H1535H1537.6V1094.1H1540.2H1542.8V1091.5H1545.5H1548.1V1086.2H1550.7V1083.6H1553.4V1080.9H1556V1078.3H1558.6H1561.2V1075.7H1563.9H1566.5V1083.6H1569.1V1080.9H1571.8H1574.4V1083.6H1577H1579.7V1091.5H1582.3H1584.9H1587.5H1590.2V1094.1H1592.8V1096.7H1595.4V1091.5H1598.1H1600.7V1094.1H1603.3H1606V1102H1608.6H1611.2H1613.8H1616.5H1619.1V1104.6H1621.7H1624.4H1627H1629.6H1632.3H1634.9V1102H1637.5H1640.2V1104.6H1642.8V1102H1645.4V1104.6H1648H1650.7H1653.3H1655.9H1658.6H1661.2V1099.3H1663.8H1666.5V1102H1669.1H1671.7V1099.3H1674.3H1677V1102H1679.6V1096.7H1682.2H1684.9V1104.6H1686.5V1117.8H1684.9H1682.2H1679.6H1677H1674.3V1120.4H1671.7H1669.1V1115.1H1666.5V1117.8H1663.8H1661.2H1658.6H1655.9V1115.1H1653.3V1120.4H1650.7H1648V1115.1H1645.4V1117.8H1642.8H1640.2H1637.5V1115.1H1634.9V1117.8H1632.3H1629.6V1115.1H1627V1117.8H1624.4V1120.4H1621.7H1619.1V1117.8H1616.5H1613.8H1611.2V1112.5H1608.6V1115.1H1606H1603.3V1112.5H1600.7V1109.9H1598.1V1107.2H1595.4H1592.8H1590.2V1112.5H1587.5V1104.6H1584.9V1107.2H1582.3H1579.7V1102H1577H1574.4H1571.8V1096.7H1569.1V1094.1H1566.5H1563.9V1091.5H1561.2V1094.1H1558.6H1556V1096.7H1553.4V1099.3H1550.7V1102H1548.1V1104.6H1545.5H1542.8V1115.1H1540.2H1537.6H1535V1109.9H1532.3V1112.5H1529.7H1527.1H1524.4V1115.1H1521.8H1519.2V1112.5H1516.5H1513.9H1511.3V1115.1H1508.7H1506V1112.5H1503.4H1500.8V1109.9H1498.1V1102H1495.5H1492.9H1490.2V1104.6H1487.6H1485V1107.2H1482.3V1109.9H1479.7H1477.1H1474.5V1112.5H1471.8H1469.2V1115.1H1466.6V1117.8H1463.9H1461.3V1112.5H1458.7V1120.4H1456H1453.4H1450.8H1448.2V1117.8H1445.5V1115.1H1442.9H1440.3V1120.4H1437.6H1435V1115.1H1432.4H1429.8H1427.1V1117.8H1424.5H1421.9V1115.1H1419.2V1117.8H1416.6V1115.1H1414V1112.5H1411.3H1408.7H1406.1H1403.5H1400.8H1398.2V1109.9H1395.6H1392.9H1390.3H1387.7H1385V1112.5H1382.4H1379.8H1377.2V1109.9H1374.5H1371.9H1369.3V1112.5H1366.6V1115.1H1364H1361.4V1109.9H1358.7H1356.1H1353.5H1350.8H1348.2H1345.6V1107.2H1343H1340.3V1104.6H1337.7V1099.3H1335.1H1332.4V1096.7H1329.8V1091.5H1327.2V1083.6H1324.5V1075.7H1321.9V1059.9H1319.3V1038.8H1316.7V1017.8H1314V991.5H1311.4V1002H1308.8V1023.1H1306.1V1046.7H1303.5V1065.1H1300.9V1078.3H1298.2V1091.5H1295.6H1293V1094.1H1290.4V1096.7H1287.7V1102H1285.1V1104.6H1282.5V1107.2H1279.8H1277.2V1104.6H1274.6H1272V1109.9H1269.3H1266.7V1107.2H1264.1H1261.4V1109.9H1258.8V1107.2H1256.2H1253.5V1104.6H1250.9V1107.2H1248.3H1245.7V1104.6H1243V1109.9H1240.4H1237.8V1104.6H1235.1H1232.5V1112.5H1229.9V1107.2H1227.2V1104.6H1224.6H1222V1107.2H1219.3H1216.7V1102H1214.1H1211.5H1208.8V1099.3H1206.2V1096.7H1203.6H1200.9V1086.2H1198.3V1075.7H1195.7V1062.5H1193V1044.1H1190.4V1023.1H1187.8V1015.2H1185.2V1033.6H1182.5V1052H1179.9V1067.8H1177.3V1080.9H1174.6V1088.8H1172V1091.5H1169.4V1096.7H1166.8V1102H1164.1V1104.6H1161.5H1158.9V1102H1156.2H1153.6V1104.6H1151H1148.3V1107.2H1145.7V1112.5H1143.1V1109.9H1140.5H1137.8H1135.2H1132.6V1104.6H1129.9H1127.3V1102H1124.7H1122V1096.7H1119.4V1088.8H1116.8H1114.1H1111.5V1091.5H1108.9V1096.7H1106.3V1099.3H1103.6V1102H1101V1107.2H1098.4H1095.7V1109.9H1093.1V1107.2H1090.5H1087.8H1085.2H1082.6H1080V1109.9H1077.3H1074.7V1117.8H1072.1H1069.4V1112.5H1066.8H1064.2H1061.5H1058.9H1056.3H1053.7H1051V1117.8H1048.4V1112.5H1045.8V1117.8H1043.1V1112.5H1040.5V1117.8H1037.9V1115.1H1035.2V1112.5H1032.6H1030H1027.4H1024.7H1022.1H1019.5V1115.1H1016.8H1014.2V1112.5H1011.6H1009H1006.3H1003.7H1001.1V1117.8H998.4H995.8V1115.1H993.2H990.5V1112.5H987.9V1115.1H985.3V1117.8H982.6H980V1112.5H977.4H974.8H972.1H969.5V1115.1H966.9V1112.5H964.2H961.6H959V1115.1H956.3H953.7H951.1V1117.8H948.5H945.8H943.2H940.6V1112.5H937.9H935.3V1115.1H932.7H930V1109.9H927.4V1112.5H924.8H922.2H919.5H916.9V1109.9H914.3H911.6H909V1107.2H906.4H903.8V1109.9H901.1H898.5V1107.2H895.9V1102H893.2V1094.1H890.6V1088.8H888V1078.3H885.3V1067.8H882.7V1062.5H880.1V1073H877.5V1083.6H874.8V1091.5H872.2V1099.3H869.6V1107.2H866.9H864.3H861.7V1104.6H859V1107.2H856.4H853.8H851.1H848.5H845.9V1109.9H843.3H840.6H838V1112.5H835.4H832.7H830.1H827.5H824.8H822.2H819.6V1109.9H817V1112.5H814.3H811.7H809.1H806.4H803.8H801.2H798.5V1109.9H795.9H793.3V1112.5H790.7H788V1109.9H785.4H782.8H780.1H777.5H774.9H772.2V1107.2H769.6V1109.9H767H764.4V1102H761.7H759.1H756.5V1099.3H753.8V1094.1H751.2V1091.5H748.6V1088.8H746V1091.5H743.3V1088.8H740.7V1086.2H738.1V1075.7H735.4V1067.8H732.8V1057.3H730.2V1046.7H727.5V1023.1H724.9V988.9H722.3V941.5H719.6V888.9H717V825.8H714.4V857.4H711.8V917.9H709.1V973.1H706.5V1012.5H703.9V1041.5H701.2V1065.1H698.6V1073H696V1080.9H693.3V1086.2H690.7V1091.5H688.1V1094.1H685.5V1096.7H682.8V1104.6H680.2H677.6H674.9V1099.3H672.3V1096.7H669.7V1102H667H664.4V1099.3H661.8V1102H659.2H656.5V1104.6H653.9H651.3H648.6H646H643.4H640.8V1102H638.1H635.5V1104.6H632.9H630.2V1102H627.6V1099.3H625H622.3V1102H619.7H617.1V1096.7H614.5V1094.1H611.8H609.2V1091.5H606.6V1080.9H603.9V1073H601.3V1059.9H598.7V1044.1H596V1033.6H593.4V1046.7H590.8V1062.5H588.1V1080.9H585.5V1083.6H582.9V1094.1H580.3H577.6V1102H575H572.4V1107.2H569.7V1102H567.1H564.5H561.8V1104.6H559.2H556.6H554V1107.2H551.3H548.7V1104.6H546.1H543.4H540.8V1107.2H538.2H535.5H532.9H530.3V1112.5H527.7H525V1109.9H522.4V1107.2H519.8H517.1V1109.9H514.5H511.9H509.2H506.6H504H501.4H498.7H496.1V1104.6H493.5V1107.2H490.8H488.2V1109.9H485.6H482.9V1104.6H480.3H477.7V1107.2H475.1V1112.5H472.4V1104.6H469.8V1107.2H467.2H464.5V1104.6H461.9H459.3H456.6H454V1107.2H451.4H448.8V1104.6H446.1V1107.2H443.5H440.9H438.2V1109.9H435.6H433V1104.6H430.3V1107.2H427.7H425.1V1102H422.5V1107.2H419.8H417.2V1102H414.6V1107.2H411.9H409.3V1104.6H406.7V1102H404V1099.3H401.4H398.8H396.2V1107.2H393.5H390.9V1104.6H388.3V1102H385.6V1104.6H383H380.4V1102H377.8H375.1V1099.3H372.5V1096.7H369.9V1094.1H367.2H364.6V1096.7H362H359.3H356.7V1094.1H354.1V1091.5H351.4H348.8V1088.8H346.2V1091.5H343.6H340.9V1088.8H338.3V1086.2H335.7V1091.5H333H330.4H327.8H325.1H322.5H319.9V1096.7H317.3V1099.3H314.6V1094.1H312V1091.5H309.4V1094.1H306.7H304.1V1088.8H301.5V1096.7H298.9V1094.1H296.2V1086.2H293.6H291V1091.5H288.3H285.7V1086.2H283.1H280.4H277.8H275.2H272.5V1088.8H269.9V1086.2H267.3H264.7V1083.6H262H259.4H256.8H254.1H251.5V1073H248.9V1075.7H246.2V1067.8H243.6H241V1073H238.4H235.7V1067.8H233.1H230.5V1065.1H227.8H225.2V1067.8H222.6V1059.9H219.9V1052H217.3H214.7V1054.6H212.1H209.4V1052H206.8H204.2V1038.8H201.5V1033.6H198.9V1044.1H196.3H193.6V1036.2H191V1033.6H188.4H185.8H183.1V1020.4H180.5V1031H177.9H175.2V1025.7H172.6H170V1015.2H167.3V1009.9H164.7V1007.3H162.1V1002H159.5V1004.7H156.8H154.2Z"/>
<path fill="#000000" stroke="#000000" stroke-width="2.6" d="M154.2 1157.2H156.8H159.5H162.1V1165.1H164.7V1167.7H167.3V1159.8H170H172.6V1170.3H175.2H177.9V1175.6H180.5V1167.7H183.1H185.8V1173H188.4H191V1175.6H193.6H196.3V1180.9H198.9H201.5V1188.8H204.2H206.8H209.4H212.1V1191.4H214.7V1194H217.3H219.9V1201.9H222.6H225.2V1204.5H227.8V1201.9H230.5H233.1V1207.2H235.7V1204.5H238.4V1201.9H241H243.6H246.2V1212.4H248.9V1209.8H251.5H254.1V1215.1H256.8V1217.7H259.4V1220.3H262H264.7H267.3V1217.7H269.9H272.5H275.2H277.8H280.4H283.1V1223H285.7V1220.3H288.3H291V1228.2H293.6V1225.6H296.2H298.9V1230.8H301.5V1228.2H304.1H306.7H309.4V1225.6H312H314.6H317.3V1228.2H319.9H322.5H325.1V1230.8H327.8H330.4V1225.6H333H335.7V1228.2H338.3V1223H340.9V1228.2H343.6H346.2V1233.5H348.8H351.4V1236.1H354.1H356.7V1238.7H359.3H362V1236.1H364.6V1238.7H367.2H369.9H372.5V1236.1H375.1H377.8V1238.7H380.4H383V1236.1H385.6H388.3V1238.7H390.9H393.5H396.2V1241.4H398.8V1233.5H401.4H404V1238.7H406.7H409.3V1241.4H411.9V1238.7H414.6H417.2V1241.4H419.8H422.5V1238.7H425.1H427.7H430.3V1241.4H433V1238.7H435.6V1236.1H438.2H440.9V1241.4H443.5V1236.1H446.1V1238.7H448.8V1241.4H451.4V1238.7H454H456.6H459.3H461.9V1241.4H464.5V1238.7H467.2H469.8H472.4V1241.4H475.1H477.7V1238.7H480.3H482.9V1236.1H485.6H488.2H490.8H493.5V1241.4H496.1V1233.5H498.7V1230.8H501.4H504V1236.1H506.6H509.2V1238.7H511.9H514.5V1241.4H517.1H519.8H522.4V1236.1H525H527.7V1241.4H530.3V1238.7H532.9H535.5V1241.4H538.2V1238.7H540.8H543.4V1241.4H546.1H548.7H551.3H554V1238.7H556.6H559.2H561.8H564.5V1244H567.1V1236.1H569.7V1238.7H572.4V1233.5H575H577.6V1238.7H580.3V1230.8H582.9H585.5V1223H588.1V1207.2H590.8V1183.5H593.4V1157.2H596H598.7H601.3V1170.3H603.9V1196.6H606.6V1215.1H609.2V1225.6H611.8V1230.8H614.5V1233.5H617.1H619.7V1236.1H622.3V1238.7H625H627.6H630.2V1236.1H632.9H635.5V1238.7H638.1H640.8V1241.4H643.4V1238.7H646H648.6V1236.1H651.3H653.9H656.5V1238.7H659.2V1236.1H661.8H664.4H667V1238.7H669.7V1233.5H672.3H674.9V1230.8H677.6H680.2V1236.1H682.8V1233.5H685.5V1225.6H688.1H690.7H693.3V1212.4H696H698.6V1196.6H701.2V1180.9H703.9V1141.4H706.5V1067.8H709.1V973.1H711.8V925.8H714.4H717V933.6H719.6V1017.8H722.3V1104.6H724.9V1159.8H727.5V1186.1H730.2V1207.2H732.8V1215.1H735.4H738.1H740.7V1217.7H743.3V1225.6H746V1228.2H748.6H751.2H753.8V1236.1H756.5V1238.7H759.1H761.7H764.4V1244H767H769.6H772.2V1246.6H774.9V1244H777.5H780.1V1246.6H782.8V1244H785.4H788H790.7V1246.6H793.3V1249.2H795.9H798.5V1246.6H801.2V1244H803.8H806.4V1246.6H809.1H811.7V1249.2H814.3H817H819.6H822.2V1244H824.8V1246.6H827.5V1249.2H830.1H832.7V1244H835.4H838V1249.2H840.6H843.3V1246.6H845.9H848.5V1244H851.1H853.8V1246.6H856.4H859H861.7V1244H864.3H866.9H869.6V1236.1H872.2V1230.8H874.8V1215.1H877.5V1196.6H880.1V1186.1H882.7H885.3V1191.4H888V1209.8H890.6V1225.6H893.2V1238.7H895.9V1244H898.5V1246.6H901.1H903.8V1249.2H906.4H909H911.6H914.3H916.9V1246.6H919.5V1249.2H922.2V1251.9H924.8H927.4H930H932.7H935.3H937.9H940.6H943.2H945.8H948.5H951.1H953.7H956.3H959V1254.5H961.6V1249.2H964.2H966.9V1251.9H969.5H972.1V1254.5H974.8V1251.9H977.4H980V1254.5H982.6V1249.2H985.3H987.9V1254.5H990.5V1251.9H993.2H995.8H998.4V1254.5H1001.1H1003.7H1006.3H1009H1011.6H1014.2H1016.8V1251.9H1019.5H1022.1H1024.7V1254.5H1027.4V1251.9H1030H1032.6H1035.2H1037.9H1040.5H1043.1H1045.8H1048.4H1051H1053.7V1249.2H1056.3H1058.9V1251.9H1061.5V1246.6H1064.2H1066.8V1249.2H1069.4V1246.6H1072.1V1249.2H1074.7H1077.3H1080H1082.6H1085.2H1087.8H1090.5V1244H1093.1H1095.7H1098.4V1241.4H1101V1238.7H1103.6V1230.8H1106.3V1220.3H1108.9V1217.7H1111.5H1114.1V1220.3H1116.8V1228.2H1119.4V1236.1H1122V1241.4H1124.7H1127.3H1129.9H1132.6V1244H1135.2H1137.8H1140.5V1241.4H1143.1H1145.7V1244H1148.3H1151V1241.4H1153.6H1156.2H1158.9V1238.7H1161.5H1164.1H1166.8H1169.4V1236.1H1172V1230.8H1174.6V1225.6H1177.3V1207.2H1179.9V1183.5H1182.5V1154.6H1185.2V1146.7H1187.8H1190.4V1154.6H1193V1188.8H1195.7V1212.4H1198.3V1228.2H1200.9V1233.5H1203.6H1206.2V1238.7H1208.8H1211.5H1214.1V1241.4H1216.7H1219.3H1222V1244H1224.6H1227.2H1229.9H1232.5H1235.1V1241.4H1237.8H1240.4V1244H1243H1245.7V1246.6H1248.3V1244H1250.9V1241.4H1253.5H1256.2V1246.6H1258.8V1244H1261.4H1264.1V1241.4H1266.7H1269.3V1238.7H1272V1244H1274.6H1277.2H1279.8V1238.7H1282.5V1233.5H1285.1H1287.7V1236.1H1290.4V1238.7H1293V1233.5H1295.6V1230.8H1298.2V1220.3H1300.9V1201.9H1303.5V1165.1H1306.1V1138.8H1308.8V1130.9H1311.4H1314V1141.4H1316.7V1183.5H1319.3V1209.8H1321.9V1225.6H1324.5V1233.5H1327.2V1238.7H1329.8V1241.4H1332.4V1244H1335.1V1246.6H1337.7H1340.3V1244H1343H1345.6V1246.6H1348.2H1350.8V1249.2H1353.5V1246.6H1356.1V1249.2H1358.7V1251.9H1361.4H1364H1366.6V1249.2H1369.3H1371.9V1251.9H1374.5V1249.2H1377.2V1251.9H1379.8H1382.4H1385V1254.5H1387.7H1390.3H1392.9H1395.6H1398.2V1251.9H1400.8H1403.5V1254.5H1406.1H1408.7H1411.3V1249.2H1414H1416.6V1254.5H1419.2V1249.2H1421.9H1424.5V1251.9H1427.1H1429.8V1254.5H1432.4V1251.9H1435V1249.2H1437.6H1440.3V1251.9H1442.9V1254.5H1445.5V1251.9H1448.2H1450.8H1453.4H1456V1254.5H1458.7V1251.9H1461.3H1463.9H1466.6H1469.2H1471.8V1249.2H1474.5V1251.9H1477.1V1249.2H1479.7H1482.3H1485H1487.6V1246.6H1490.2H1492.9V1241.4H1495.5V1246.6H1498.1H1500.8H1503.4V1249.2H1506H1508.7V1251.9H1511.3H1513.9H1516.5H1519.2H1521.8H1524.4V1254.5H1527.1V1249.2H1529.7H1532.3V1251.9H1535V1249.2H1537.6H1540.2V1251.9H1542.8V1249.2H1545.5H1548.1V1246.6H1550.7V1244H1553.4V1241.4H1556H1558.6V1236.1H1561.2H1563.9H1566.5H1569.1V1238.7H1571.8V1241.4H1574.4H1577V1244H1579.7V1246.6H1582.3H1584.9H1587.5V1249.2H1590.2H1592.8H1595.4H1598.1H1600.7H1603.3H1606H1608.6V1251.9H1611.2H1613.8V1254.5H1616.5H1619.1H1621.7H1624.4H1627H1629.6H1632.3H1634.9H1637.5H1640.2V1251.9H1642.8H1645.4V1254.5H1648H1650.7H1653.3H1655.9V1251.9H1658.6H1661.2V1254.5H1663.8H1666.5H1669.1V1251.9H1671.7H1674.3V1254.5H1677H1679.6H1682.2H1684.9H1686.5V1265H1684.9H1682.2V1267.7H1679.6H1677V1265H1674.3H1671.7H1669.1H1666.5H1663.8H1661.2V1267.7H1658.6H1655.9H1653.3H1650.7H1648H1645.4V1265H1642.8H1640.2H1637.5H1634.9V1267.7H1632.3H1629.6V1265H1627H1624.4H1621.7H1619.1H1616.5H1613.8H1611.2H1608.6V1262.4H1606H1603.3V1265H1600.7V1262.4H1598.1V1259.8H1595.4H1592.8H1590.2V1262.4H1587.5H1584.9V1257.1H1582.3H1579.7V1254.5H1577H1574.4V1251.9H1571.8H1569.1H1566.5H1563.9H1561.2H1558.6V1254.5H1556H1553.4V1257.1H1550.7H1548.1V1259.8H1545.5V1262.4H1542.8H1540.2H1537.6V1265H1535H1532.3V1262.4H1529.7H1527.1H1524.4H1521.8H1519.2H1516.5H1513.9V1265H1511.3H1508.7V1262.4H1506H1503.4V1259.8H1500.8V1257.1H1498.1H1495.5H1492.9V1259.8H1490.2H1487.6V1262.4H1485H1482.3H1479.7V1265H1477.1V1262.4H1474.5H1471.8H1469.2H1466.6H1463.9V1265H1461.3H1458.7V1262.4H1456H1453.4H1450.8H1448.2H1445.5H1442.9H1440.3H1437.6H1435H1432.4V1265H1429.8V1262.4H1427.1H1424.5H1421.9V1265H1419.2H1416.6V1262.4H1414H1411.3H1408.7H1406.1H1403.5H1400.8H1398.2V1265H1395.6H1392.9V1262.4H1390.3H1387.7V1265H1385V1262.4H1382.4H1379.8H1377.2H1374.5H1371.9H1369.3V1265H1366.6H1364V1259.8H1361.4H1358.7H1356.1V1262.4H1353.5V1265H1350.8H1348.2V1259.8H1345.6H1343H1340.3V1262.4H1337.7H1335.1V1254.5H1332.4H1329.8V1251.9H1327.2V1249.2H1324.5V1246.6H1321.9V1241.4H1319.3V1228.2H1316.7V1209.8H1314V1175.6H1311.4V1162.5H1308.8V1196.6H1306.1V1220.3H1303.5V1236.1H1300.9V1244H1298.2V1246.6H1295.6V1249.2H1293V1251.9H1290.4V1254.5H1287.7H1285.1V1251.9H1282.5V1254.5H1279.8V1257.1H1277.2H1274.6H1272V1259.8H1269.3H1266.7V1254.5H1264.1H1261.4V1259.8H1258.8H1256.2V1257.1H1253.5H1250.9V1259.8H1248.3H1245.7V1257.1H1243H1240.4H1237.8H1235.1V1259.8H1232.5H1229.9H1227.2H1224.6V1257.1H1222V1259.8H1219.3H1216.7V1257.1H1214.1H1211.5V1254.5H1208.8V1251.9H1206.2H1203.6V1249.2H1200.9V1246.6H1198.3V1241.4H1195.7V1233.5H1193V1215.1H1190.4V1186.1H1187.8V1180.9H1185.2V1209.8H1182.5V1233.5H1179.9V1238.7H1177.3V1244H1174.6V1249.2H1172H1169.4V1251.9H1166.8V1254.5H1164.1H1161.5H1158.9H1156.2V1257.1H1153.6H1151V1254.5H1148.3H1145.7H1143.1V1257.1H1140.5H1137.8H1135.2H1132.6H1129.9V1259.8H1127.3H1124.7H1122V1251.9H1119.4H1116.8V1244H1114.1V1233.5H1111.5V1238.7H1108.9V1246.6H1106.3V1251.9H1103.6V1254.5H1101V1257.1H1098.4H1095.7H1093.1H1090.5V1262.4H1087.8H1085.2V1259.8H1082.6H1080H1077.3H1074.7H1072.1V1262.4H1069.4H1066.8V1259.8H1064.2H1061.5H1058.9H1056.3V1262.4H1053.7H1051V1265H1048.4H1045.8H1043.1H1040.5V1262.4H1037.9H1035.2H1032.6H1030H1027.4V1265H1024.7H1022.1H1019.5V1262.4H1016.8H1014.2V1265H1011.6H1009H1006.3H1003.7V1262.4H1001.1V1265H998.4H995.8H993.2H990.5H987.9H985.3H982.6H980V1262.4H977.4H974.8V1265H972.1H969.5V1262.4H966.9H964.2V1265H961.6V1262.4H959H956.3V1265H953.7H951.1V1262.4H948.5H945.8V1265H943.2H940.6V1262.4H937.9V1265H935.3H932.7V1262.4H930H927.4H924.8V1259.8H922.2H919.5V1262.4H916.9H914.3V1265H911.6H909V1259.8H906.4H903.8V1257.1H901.1H898.5H895.9V1254.5H893.2V1249.2H890.6V1244H888V1233.5H885.3V1209.8H882.7V1215.1H880.1V1233.5H877.5V1244H874.8V1249.2H872.2V1254.5H869.6V1257.1H866.9H864.3H861.7V1259.8H859H856.4V1257.1H853.8V1262.4H851.1H848.5V1259.8H845.9H843.3H840.6H838V1262.4H835.4V1259.8H832.7H830.1H827.5H824.8H822.2V1262.4H819.6H817H814.3H811.7V1257.1H809.1V1262.4H806.4H803.8V1259.8H801.2H798.5H795.9H793.3H790.7H788V1262.4H785.4H782.8H780.1H777.5V1259.8H774.9V1257.1H772.2H769.6H767V1254.5H764.4V1259.8H761.7V1257.1H759.1H756.5V1251.9H753.8H751.2V1249.2H748.6V1244H746V1241.4H743.3V1244H740.7H738.1V1233.5H735.4H732.8V1228.2H730.2V1223H727.5V1212.4H724.9V1201.9H722.3V1154.6H719.6V1088.8H717V1002H714.4V1046.7H711.8V1128.3H709.1V1178.2H706.5V1207.2H703.9V1220.3H701.2V1228.2H698.6V1233.5H696V1241.4H693.3V1246.6H690.7H688.1V1249.2H685.5H682.8V1246.6H680.2V1249.2H677.6V1251.9H674.9H672.3H669.7H667H664.4H661.8H659.2V1254.5H656.5H653.9H651.3V1251.9H648.6H646V1257.1H643.4H640.8V1251.9H638.1H635.5H632.9V1249.2H630.2V1251.9H627.6H625H622.3V1249.2H619.7H617.1H614.5H611.8V1246.6H609.2V1244H606.6V1233.5H603.9V1217.7H601.3V1196.6H598.7V1183.5H596V1209.8H593.4V1228.2H590.8V1241.4H588.1V1244H585.5V1246.6H582.9V1249.2H580.3H577.6V1251.9H575H572.4V1254.5H569.7V1259.8H567.1H564.5V1254.5H561.8V1257.1H559.2H556.6V1254.5H554H551.3H548.7H546.1H543.4V1251.9H540.8V1257.1H538.2V1254.5H535.5V1257.1H532.9H530.3V1254.5H527.7H525H522.4H519.8V1257.1H517.1H514.5H511.9V1254.5H509.2V1251.9H506.6H504H501.4V1249.2H498.7V1251.9H496.1V1257.1H493.5H490.8H488.2V1251.9H485.6H482.9V1257.1H480.3H477.7H475.1H472.4V1254.5H469.8H467.2V1257.1H464.5H461.9V1251.9H459.3V1254.5H456.6V1257.1H454V1254.5H451.4H448.8V1251.9H446.1H443.5H440.9H438.2H435.6H433H430.3H427.7V1254.5H425.1V1251.9H422.5V1257.1H419.8H417.2V1251.9H414.6H411.9V1254.5H409.3V1257.1H406.7V1254.5H404V1251.9H401.4H398.8V1254.5H396.2H393.5V1251.9H390.9V1249.2H388.3H385.6H383V1251.9H380.4V1249.2H377.8H375.1V1251.9H372.5H369.9V1249.2H367.2V1254.5H364.6H362V1246.6H359.3V1249.2H356.7H354.1H351.4V1246.6H348.8V1249.2H346.2H343.6V1244H340.9H338.3H335.7H333H330.4V1246.6H327.8V1251.9H325.1H322.5V1249.2H319.9V1241.4H317.3H314.6H312H309.4H306.7H304.1V1249.2H301.5H298.9H296.2H293.6V1241.4H291V1246.6H288.3H285.7V1238.7H283.1H280.4H277.8V1236.1H275.2V1233.5H272.5V1238.7H269.9V1233.5H267.3H264.7V1238.7H262H259.4V1233.5H256.8V1236.1H254.1H251.5V1228.2H248.9V1236.1H246.2H243.6V1228.2H241V1225.6H238.4V1233.5H235.7H233.1V1225.6H230.5V1223H227.8V1225.6H225.2H222.6V1220.3H219.9H217.3V1215.1H214.7H212.1H209.4V1212.4H206.8H204.2H201.5H198.9V1207.2H196.3H193.6H191V1209.8H188.4H185.8V1199.3H183.1H180.5H177.9H175.2V1188.8H172.6H170V1199.3H167.3H164.7V1183.5H162.1V1180.9H159.5V1183.5H156.8H154.2Z"/>
</g>
<g stroke="#000" stroke-width="3" stroke-dasharray="16 13.6" fill="none">
<path d="M339.3 1279V352.0"/>
<path d="M594.6 1279V289.5"/>
<path d="M884.6 1279V316.0"/>
<path d="M1109.6 1279V358.0"/>
<path d="M1187.8 1279V288.5"/>
<path d="M1310.7 1279V268.0"/>
<path d="M1494.4 1279V377.0"/>
<path d="M1561.2 1279V377.0"/>
</g>
<g stroke="#000" fill="none">
<path stroke-width="2.8" d="M128.5 42.3H1687.9"/>
<path stroke-width="4.6" d="M128.3 1276.4H1687.9"/>
<path stroke-width="2.6" d="M154.2 40.9V1300.8"/>
<path stroke-width="3" d="M1686.5 40.9V1300.8"/>
</g>
<path stroke="#8a9a95" stroke-width="2.4" d="M1689.2 42.3V1276"/>
<path stroke="#000" stroke-width="3.4" fill="none" d="M128.5 218.6H154.2M1663.5 218.6H1686.5M128.5 394.9H154.2M1663.5 394.9H1686.5M128.5 571.2H154.2M1663.5 571.2H1686.5M128.5 747.5H154.2M1663.5 747.5H1686.5M128.5 923.8H154.2M1663.5 923.8H1686.5M128.5 1100.1H154.2M1663.5 1100.1H1686.5M141.8 130.4H154.2M1674.0 130.4H1686.5M141.8 306.8H154.2M1674.0 306.8H1686.5M141.8 483.1H154.2M1674.0 483.1H1686.5M141.8 659.4H154.2M1674.0 659.4H1686.5M141.8 835.7H154.2M1674.0 835.7H1686.5M141.8 1012.0H154.2M1674.0 1012.0H1686.5M141.8 1188.2H154.2M1674.0 1188.2H1686.5M373.1 1276.4V1300.6M373.1 42.3V66.7M592.0 1276.4V1300.6M592.0 42.3V66.7M810.9 1276.4V1300.6M810.9 42.3V66.7M1029.8 1276.4V1300.6M1029.8 42.3V66.7M1248.7 1276.4V1300.6M1248.7 42.3V66.7M1467.6 1276.4V1300.6M1467.6 42.3V66.7M263.6 1276.4V1288.6M263.6 42.3V53.9M482.6 1276.4V1288.6M482.6 42.3V53.9M701.5 1276.4V1288.6M701.5 42.3V53.9M920.3 1276.4V1288.6M920.3 42.3V53.9M1139.2 1276.4V1288.6M1139.2 42.3V53.9M1358.2 1276.4V1288.6M1358.2 42.3V53.9M1577.0 1276.4V1288.6M1577.0 42.3V53.9"/>
<g font-size="53" text-anchor="middle">
<text x="154.2" y="1358.5">10</text>
<text x="373.1" y="1358.5">20</text>
<text x="592.0" y="1358.5">30</text>
<text x="810.9" y="1358.5">40</text>
<text x="1029.8" y="1358.5">50</text>
<text x="1248.7" y="1358.5">60</text>
<text x="1467.6" y="1358.5">70</text>
<text x="1686.5" y="1358.5">80</text>
</g>
<text font-size="70" transform="translate(85.5 967.0) rotate(-90)">normalized intensity</text>
<text font-size="69" x="726.8" y="1456.3">2θ / degree</text>
<g font-size="65">
<text x="1725.6" y="419.4">M–pa</text>
<text x="1725.6" y="564.4">M–pg</text>
<text x="1725.6" y="710.4">M–a</text>
<text x="1725.6" y="854.9">M–p</text>
<text x="1725.6" y="1001.3">M–g</text>
<text x="1725.6" y="1133.4">M2</text>
<text x="1725.6" y="1265.9">M1</text>
</g>
<g font-size="59">
<text transform="translate(358.0 339.0) rotate(-90)">(111)</text>
<text transform="translate(615.1 266.0) rotate(-90)">(220)</text>
<text transform="translate(768.0 229.2) rotate(-90)">(311)</text>
<text transform="translate(903.5 314.9) rotate(-90)">(400)</text>
<text transform="translate(1130.8 360.3) rotate(-90)">(422)</text>
<text transform="translate(1214.1 290.9) rotate(-90)">(511)</text>
<text transform="translate(1328.4 268.7) rotate(-90)">(440)</text>
<text transform="translate(1512.0 380.0) rotate(-90)">(620)</text>
<text transform="translate(1573.6 380.0) rotate(-90)">(533)</text>
</g>
</svg></body></html>
